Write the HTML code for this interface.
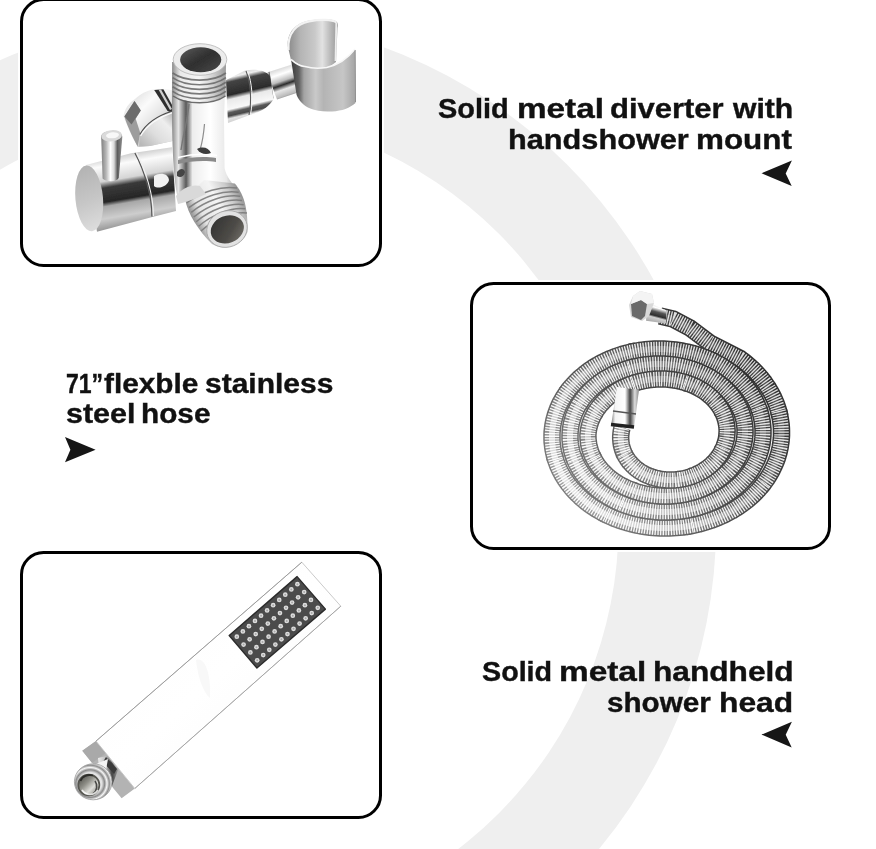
<!DOCTYPE html>
<html lang="en"><head><meta charset="utf-8"><title>Shower kit features</title>
<style>
html,body{margin:0;padding:0;background:#fff}
body{width:876px;height:849px;position:relative;overflow:hidden;font-family:"Liberation Sans",sans-serif}
.card{position:absolute;box-sizing:border-box;width:361.8px;height:268.2px;border:3px solid #000;border-radius:23.5px;background:#fff;box-shadow:0 0 0 2px #fff;overflow:hidden}
.prod{position:absolute;left:0;top:0}
#c1{left:20.3px;top:-1.9px;height:268.6px}
#c2{left:469.6px;top:281.6px}
#c3{left:20.3px;top:551.3px}
.w{position:absolute;white-space:nowrap;font-weight:bold;font-size:28px;line-height:28px;color:#111;transform-origin:0 0;letter-spacing:0;-webkit-text-stroke:0.4px #111}
.arrow{position:absolute;left:0;top:0}
</style></head><body>
<svg class="arrow" width="876" height="849" viewBox="0 0 876 849"><circle cx="207.8" cy="524.2" r="508.4" fill="#efefef"/><circle cx="208.2" cy="523.5" r="410.4" fill="#fff"/></svg>
<div class="card" id="c1"></div>
<div class="card" id="c2"></div>
<div class="card" id="c3"></div>
<svg class="prod" width="876" height="849" viewBox="0 0 876 849">
<defs>
<filter id="db" x="-5%" y="-5%" width="110%" height="110%"><feGaussianBlur stdDeviation="0.55"/></filter>
<linearGradient id="dHolderIn" gradientUnits="userSpaceOnUse" x1="288" y1="0" x2="337" y2="0"><stop offset="0" stop-color="#8a8a8a"/><stop offset=".25" stop-color="#b4b4b4"/><stop offset=".55" stop-color="#c9c9c9"/><stop offset=".7" stop-color="#e2e2e2"/><stop offset=".85" stop-color="#bdbdbd"/><stop offset="1" stop-color="#9c9c9c"/></linearGradient>
<linearGradient id="dHolderF" gradientUnits="userSpaceOnUse" x1="291" y1="0" x2="356" y2="0"><stop offset="0" stop-color="#3a3a3a"/><stop offset=".12" stop-color="#5f5f5f"/><stop offset=".2" stop-color="#a4a4a4"/><stop offset=".38" stop-color="#c9c9c9"/><stop offset=".5" stop-color="#b4b4b4"/><stop offset=".8" stop-color="#c6c6c6"/><stop offset="1" stop-color="#a2a2a2"/></linearGradient>
<linearGradient id="dArm" gradientUnits="userSpaceOnUse" x1="280" y1="68" x2="290" y2="97"><stop offset="0" stop-color="#d8d8d8"/><stop offset=".2" stop-color="#ffffff"/><stop offset=".42" stop-color="#bdbdbd"/><stop offset=".55" stop-color="#2c2c2c"/><stop offset=".7" stop-color="#e6e6e6"/><stop offset=".9" stop-color="#bcbcbc"/><stop offset="1" stop-color="#7c7c7c"/></linearGradient>
<linearGradient id="dCone" gradientUnits="userSpaceOnUse" x1="243" y1="69" x2="255" y2="121"><stop offset="0" stop-color="#cfcfcf"/><stop offset=".1" stop-color="#ededed"/><stop offset=".18" stop-color="#444"/><stop offset=".42" stop-color="#2b2b2b"/><stop offset=".5" stop-color="#e9e9e9"/><stop offset=".68" stop-color="#f8f8f8"/><stop offset=".74" stop-color="#5a5a5a"/><stop offset=".8" stop-color="#4a4a4a"/><stop offset=".85" stop-color="#e3e3e3"/><stop offset="1" stop-color="#bdbdbd"/></linearGradient>
<linearGradient id="dPipe" gradientUnits="userSpaceOnUse" x1="172" y1="0" x2="225" y2="0"><stop offset="0" stop-color="#6a6a6a"/><stop offset=".08" stop-color="#cfcfcf"/><stop offset=".18" stop-color="#8d8d8d"/><stop offset=".3" stop-color="#f3f3f3"/><stop offset=".55" stop-color="#ffffff"/><stop offset=".8" stop-color="#f1f1f1"/><stop offset=".94" stop-color="#c3c3c3"/><stop offset="1" stop-color="#8c8c8c"/></linearGradient>
<linearGradient id="dThread" gradientUnits="userSpaceOnUse" x1="172" y1="0" x2="226" y2="0"><stop offset="0" stop-color="#8a8a8a"/><stop offset=".15" stop-color="#e9e9e9"/><stop offset=".5" stop-color="#f6f6f6"/><stop offset=".75" stop-color="#d2d2d2"/><stop offset="1" stop-color="#9a9a9a"/></linearGradient>
<linearGradient id="dHole" x1="0" x2="1" y1="0" y2="1"><stop offset="0" stop-color="#5a5a5a"/><stop offset=".5" stop-color="#2f2f2f"/><stop offset="1" stop-color="#4a4a4a"/></linearGradient>
<linearGradient id="dHole2" x1="0" x2="1" y1="0" y2="1"><stop offset="0" stop-color="#2f2f2f"/><stop offset=".6" stop-color="#4d4b47"/><stop offset="1" stop-color="#77746e"/></linearGradient>
<linearGradient id="dKnob" gradientUnits="userSpaceOnUse" x1="120" y1="155" x2="132" y2="225"><stop offset="0" stop-color="#cfcfcf"/><stop offset=".12" stop-color="#fbfbfb"/><stop offset=".33" stop-color="#d5d5d5"/><stop offset=".42" stop-color="#3a3a3a"/><stop offset=".62" stop-color="#262626"/><stop offset=".68" stop-color="#a8a8a8"/><stop offset=".85" stop-color="#cdcdcd"/><stop offset="1" stop-color="#9a9a9a"/></linearGradient>
<linearGradient id="dFace" gradientUnits="userSpaceOnUse" x1="80" y1="170" x2="100" y2="230"><stop offset="0" stop-color="#b4b4b4"/><stop offset=".5" stop-color="#c6c6c6"/><stop offset="1" stop-color="#dedede"/></linearGradient>
<linearGradient id="dLever" gradientUnits="userSpaceOnUse" x1="101" y1="0" x2="122" y2="0"><stop offset="0" stop-color="#7d7d7d"/><stop offset=".25" stop-color="#b9b9b9"/><stop offset=".45" stop-color="#ffffff"/><stop offset=".62" stop-color="#d9d9d9"/><stop offset=".78" stop-color="#5c5c5c"/><stop offset="1" stop-color="#8a8a8a"/></linearGradient>
<linearGradient id="dBackL" gradientUnits="userSpaceOnUse" x1="135" y1="95" x2="165" y2="125"><stop offset="0" stop-color="#e4e4e4"/><stop offset=".35" stop-color="#fbfbfb"/><stop offset=".7" stop-color="#e6e6e6"/><stop offset="1" stop-color="#c6c6c6"/></linearGradient>
<linearGradient id="dBackF" gradientUnits="userSpaceOnUse" x1="142" y1="145" x2="172" y2="115"><stop offset="0" stop-color="#b9b9b9"/><stop offset=".4" stop-color="#dedede"/><stop offset=".75" stop-color="#eeeeee"/><stop offset="1" stop-color="#bdbdbd"/></linearGradient>
<linearGradient id="dBody" gradientUnits="userSpaceOnUse" x1="172" y1="0" x2="236" y2="0"><stop offset="0" stop-color="#8a8a8a"/><stop offset=".1" stop-color="#e6e6e6"/><stop offset=".22" stop-color="#5a5a5a"/><stop offset=".32" stop-color="#ededed"/><stop offset=".6" stop-color="#ffffff"/><stop offset=".85" stop-color="#e8e8e8"/><stop offset="1" stop-color="#a8a8a8"/></linearGradient>
<linearGradient id="dOut" gradientUnits="userSpaceOnUse" x1="190" y1="215" x2="240" y2="190"><stop offset="0" stop-color="#8b8b8b"/><stop offset=".2" stop-color="#e4e4e4"/><stop offset=".55" stop-color="#f4f4f4"/><stop offset=".8" stop-color="#cbcbcb"/><stop offset="1" stop-color="#8f8f8f"/></linearGradient>
</defs>
<g filter="url(#db)">
<!-- holder inner/back -->
<path d="M287.7,46 C287,32 296,23 309,20.500 C320,18.600 333,18.500 336.500,21.500 C338.500,23.500 338,26 337.500,28 L336,62 L326.700,69 L304.800,67.500 L291,60 Z" fill="url(#dHolderIn)"/>
<path d="M288.500,50 C287,33 297,23.500 309,21.300 C320,19.300 332,19.200 336.300,22.300" fill="none" stroke="#f2f2f2" stroke-width="2.2"/>
<path d="M336.300,22.300 L335.500,61" fill="none" stroke="#ededed" stroke-width="1.8"/>
<!-- arm small cylinder -->
<path d="M267,72.500 L292,64.500 L304,90.500 L277,99.500 Z" fill="url(#dArm)"/>
<path d="M269,71.800 L273,98.500" stroke="#6a6a6a" stroke-width="1.2" fill="none"/>
<!-- holder front -->
<path d="M291,59.300 C296,64 300,66 304.800,66.500 C312,68.500 320,68.500 326.700,67.500 C338,65 348,58 355,49 L355.500,103 C350,108 342,111 332.200,111.400 C324,112 316,111 310.300,108.600 C304,106 299,101 296.600,95 Z" fill="url(#dHolderF)"/>
<path d="M291,59.300 C296,64 300,66 304.800,66.500 C312,68.500 320,68.500 326.700,67.500 C338,65 348,58 355,49" fill="none" stroke="#f7f7f7" stroke-width="1.6"/>
<path d="M355.200,50 L355.500,102" stroke="#8f8f8f" stroke-width="1" fill="none"/>
<!-- cone -->
<path d="M226,80 L245,70.500 C255,68.500 266,70 270,76 L273.500,99 C270,106 262,111 254,113.500 L228,123 Z" fill="url(#dCone)"/>
<path d="M246,71 C250.500,82 252,100 249,115" fill="none" stroke="#5a5a5a" stroke-width="1.1"/>
<path d="M247.500,71 C252,82 253.500,100 250.500,114.500" fill="none" stroke="#f4f4f4" stroke-width="1"/>
<!-- back-left cylinder -->
<path d="M123.400,116.100 C125,108 129,103 134.700,99.200 C140,94 147,90.500 153.200,89.400 C160,88.300 167,88.800 172.500,90.400 L172.500,141 L150,146 L137.700,146.900 C133,138 126,126 123.400,116.100 Z" fill="url(#dBackL)"/>
<path d="M124.400,116.600 L134.500,100.900 L140.800,110.500 L135.700,118.700 L140.300,133.100 L137.600,146.500 C133,138 127,126 124.400,116.600 Z" fill="#9d9d9d"/>
<path d="M124.400,116.600 L134.500,100.900 L140.800,110.500 L131.500,124.500 Z" fill="#6c6c6c"/>
<path d="M154.200,90 L163.400,89.200 L172.500,105.800 L172.500,113 L167.600,111 Z" fill="#2f2f2f"/>
<path d="M158.500,89.600 L161,89.400 L172,109 L170,110 Z" fill="#cfcfcf"/>
<path d="M139.800,134.600 C146,123.300 159.300,115.100 172.500,111 L172.500,141 L150,146 L139,146.500 Z" fill="url(#dBackF)"/>
<path d="M139.800,134.600 C146,123.300 159.300,115.100 172.500,111" fill="none" stroke="#4a4a4a" stroke-width="1.1"/>
<path d="M140.600,136 C147,124.800 160,116.600 172.500,112.600" fill="none" stroke="#fafafa" stroke-width="1.2"/>
<!-- knob body -->
<path d="M86,165 L131,153.200 L172,147.300 L176,211 L150.500,217.500 L97,231.800 Z" fill="url(#dKnob)"/>
<path d="M134.900,153 C144,170 152,195 151.900,216.500" fill="none" stroke="#555" stroke-width="1.2"/>
<path d="M136.500,152.600 C145.500,170 153.500,195 153.400,216" fill="none" stroke="#f1f1f1" stroke-width="1.1"/>
<path d="M154,176 C160,172 168,173 169,180 C168,186 158,190 154,186 Z" fill="#f2f2f2"/>
<ellipse cx="89.200" cy="198.400" rx="13.800" ry="33" fill="url(#dFace)" transform="rotate(-5 89.200 198.400)"/>
<!-- lever -->
<path d="M101.200,137 C101,129 122,128.500 122.300,137 L118.800,178 C116,182.500 106,182 102.600,178.500 Z" fill="url(#dLever)"/>
<ellipse cx="111.700" cy="135.800" rx="10.300" ry="5.600" fill="#dadada" transform="rotate(-6 111.700 135.800)"/>
<ellipse cx="112.500" cy="135.300" rx="6.500" ry="3" fill="#f8f8f8" transform="rotate(-6 112.500 135.300)"/>
<!-- main vertical pipe body -->
<path d="M172.200,62 L226,62 L224,120 L224.600,168 C226,176 232,184 240,192 L200,204 L178,198 C172,176 171.500,120 172.200,62 Z" fill="url(#dBody)"/>
<path d="M178,160 C190,157 205,156 216,158 L216,162 C205,160 190,161 178,164 Z" fill="#8a8a8a"/>
<path d="M178,157.500 C190,154.500 205,153.500 217,155.500" fill="none" stroke="#fff" stroke-width="1.5"/>
<path d="M181,150 C184,130 188,118 189,104" fill="none" stroke="#777" stroke-width="1.4"/>
<path d="M200,150 C203,140 204,130 204.500,124" fill="none" stroke="#8c8c8c" stroke-width="1.2"/>
<path d="M197,149 C203,146 209,148 211,153 C206,155 200,154 197,149 Z" fill="#3c3c3c"/>
<!-- threads on top pipe -->
<path d="M172.500,62 L226,62 L225.500,96 C214,104 186,104 172.800,96 Z" fill="url(#dThread)"/>
<g fill="none" stroke="#6c6c6c" stroke-width="1.7" stroke-opacity=".9">
<path d="M172.600,73 C186,82.500 213,82.500 225.900,73"/>
<path d="M172.600,77.600 C186,87.100 213,87.100 225.900,77.600"/>
<path d="M172.600,82.200 C186,91.700 213,91.700 225.900,82.200"/>
<path d="M172.600,86.800 C186,96.300 213,96.300 225.900,86.800"/>
<path d="M172.600,91.400 C186,100.900 213,100.900 225.900,91.400"/>
<path d="M173,96 C186,105 213,105 225.500,96" stroke="#5e5e5e" stroke-width="1.5"/>
</g>
<!-- top opening -->
<ellipse cx="200" cy="59.500" rx="26.800" ry="15.800" fill="#ececec" stroke="#b5b5b5" stroke-width=".8"/>
<ellipse cx="200.700" cy="59.800" rx="20.600" ry="12.500" fill="url(#dHole)"/>
<!-- outlet (bottom right) -->
<path d="M185,199 L204,180 L234.800,183.500 C243,193 248,206 247.500,232 C243,246 224,252 212,244 C198,230 188,214 185,199 Z" fill="url(#dOut)"/>
<g fill="none" stroke="#7a7a7a" stroke-width="1.5" stroke-opacity=".9">
<path d="M186.5,203.0 C201.7,191.5 221.8,185.5 237.0,188.0"/>
<path d="M188.9,207.7 C203.8,196.0 223.7,189.8 238.7,192.2"/>
<path d="M191.3,212.3 C206.0,200.5 225.6,194.1 240.3,196.3"/>
<path d="M193.8,217.0 C208.2,205.1 227.5,198.4 242.0,200.5"/>
<path d="M196.2,221.7 C210.4,209.6 229.4,202.8 243.7,204.7"/>
<path d="M198.6,226.3 C212.6,214.1 231.3,207.1 245.3,208.8"/>
<path d="M201.0,231.0 C214.8,218.6 233.2,211.4 247.0,213.0"/>
</g>
<ellipse cx="227" cy="229" rx="20.600" ry="18" fill="#e2e2e2" stroke="#a5a5a5" stroke-width=".8" transform="rotate(-22 227 229)"/>
<ellipse cx="227.300" cy="229.300" rx="17" ry="13.600" fill="url(#dHole2)" transform="rotate(-22 227.300 229.300)"/>
<!-- small junction details -->
<path d="M176,196 C182,188 192,184 200,186 L206,194 C198,198 186,202 178,204 Z" fill="#d9d9d9"/>
<path d="M177,172 C180,168 184,168 185,172 C184,177 180,178 177,176 Z" fill="#444"/>
</g>
</svg>

<svg class="prod" width="876" height="849" viewBox="0 0 876 849">
<defs>
<filter id="hb" x="-5%" y="-5%" width="110%" height="110%"><feGaussianBlur stdDeviation="0.45"/></filter>
<linearGradient id="hfit" x1="0" x2="1" y1="0" y2="0"><stop offset="0" stop-color="#777"/><stop offset=".15" stop-color="#f4f4f4"/><stop offset=".5" stop-color="#fff"/><stop offset=".68" stop-color="#444"/><stop offset=".85" stop-color="#ddd"/><stop offset="1" stop-color="#888"/></linearGradient>
<linearGradient id="hnut" gradientUnits="userSpaceOnUse" x1="659" y1="304" x2="654" y2="323"><stop offset="0" stop-color="#d8d8d8"/><stop offset=".22" stop-color="#fff"/><stop offset=".42" stop-color="#555"/><stop offset=".62" stop-color="#2e2e2e"/><stop offset=".72" stop-color="#d0d0d0"/><stop offset="1" stop-color="#a5a5a5"/></linearGradient>
<linearGradient id="hedge" gradientUnits="userSpaceOnUse" x1="560" y1="530" x2="770" y2="340"><stop offset="0" stop-color="#8a8a8a"/><stop offset=".5" stop-color="#4a4a4a"/><stop offset="1" stop-color="#2a2a2a"/></linearGradient>
<linearGradient id="hrib" gradientUnits="userSpaceOnUse" x1="560" y1="530" x2="770" y2="340"><stop offset="0" stop-color="#b0b0b0"/><stop offset=".45" stop-color="#6c6c6c"/><stop offset="1" stop-color="#222"/></linearGradient>
<linearGradient id="hdash" gradientUnits="userSpaceOnUse" x1="560" y1="530" x2="770" y2="340"><stop offset="0" stop-color="#fff"/><stop offset=".5" stop-color="#fff" stop-opacity=".92"/><stop offset="1" stop-color="#fff" stop-opacity=".8"/></linearGradient>
<linearGradient id="hhi" gradientUnits="userSpaceOnUse" x1="560" y1="530" x2="770" y2="340"><stop offset="0" stop-color="#fff" stop-opacity=".8"/><stop offset=".5" stop-color="#fff" stop-opacity=".35"/><stop offset="1" stop-color="#fff" stop-opacity=".08"/></linearGradient>
</defs>
<g filter="url(#hb)" fill="none" stroke-linecap="butt" stroke-linejoin="round">
<path d="M660.0,316.0 L673.0,319.0 L690.0,328.0 L710.0,343.0 L739.9,358.4 L742.5,360.3 L745.1,362.3 L747.5,364.3 L749.9,366.4 L752.3,368.5 L754.5,370.7 L756.7,372.9 L758.7,375.2 L760.7,377.5 L762.6,379.9 L764.5,382.3 L766.2,384.8 L767.9,387.2 L769.4,389.8 L770.9,392.3 L772.3,394.9 L773.6,397.5 L774.8,400.2 L775.9,402.8 L776.9,405.5 L777.8,408.2 L778.6,411.0 L779.3,413.7 L779.9,416.5" stroke="url(#hedge)" stroke-width="17.5"/><path d="M660.0,316.0 L673.0,319.0 L690.0,328.0 L710.0,343.0 L739.9,358.4 L742.5,360.3 L745.1,362.3 L747.5,364.3 L749.9,366.4 L752.3,368.5 L754.5,370.7 L756.7,372.9 L758.7,375.2 L760.7,377.5 L762.6,379.9 L764.5,382.3 L766.2,384.8 L767.9,387.2 L769.4,389.8 L770.9,392.3 L772.3,394.9 L773.6,397.5 L774.8,400.2 L775.9,402.8 L776.9,405.5 L777.8,408.2 L778.6,411.0 L779.3,413.7 L779.9,416.5" stroke="url(#hrib)" stroke-width="14.5"/><path d="M660.0,316.0 L673.0,319.0 L690.0,328.0 L710.0,343.0 L739.9,358.4 L742.5,360.3 L745.1,362.3 L747.5,364.3 L749.9,366.4 L752.3,368.5 L754.5,370.7 L756.7,372.9 L758.7,375.2 L760.7,377.5 L762.6,379.9 L764.5,382.3 L766.2,384.8 L767.9,387.2 L769.4,389.8 L770.9,392.3 L772.3,394.9 L773.6,397.5 L774.8,400.2 L775.9,402.8 L776.9,405.5 L777.8,408.2 L778.6,411.0 L779.3,413.7 L779.9,416.5" stroke="url(#hdash)" stroke-width="14.5" stroke-dasharray="1.3 1.3"/><path d="M660.0,316.0 L673.0,319.0 L690.0,328.0 L710.0,343.0 L739.9,358.4 L742.5,360.3 L745.1,362.3 L747.5,364.3 L749.9,366.4 L752.3,368.5 L754.5,370.7 L756.7,372.9 L758.7,375.2 L760.7,377.5 L762.6,379.9 L764.5,382.3 L766.2,384.8 L767.9,387.2 L769.4,389.8 L770.9,392.3 L772.3,394.9 L773.6,397.5 L774.8,400.2 L775.9,402.8 L776.9,405.5 L777.8,408.2 L778.6,411.0 L779.3,413.7 L779.9,416.5" stroke="url(#hhi)" stroke-width="6"/>
<path d="M778.6,411.0 L779.3,413.7 L779.9,416.5 L780.4,419.3 L780.8,422.0 L781.2,424.8 L781.4,427.6 L781.5,430.4 L781.5,433.2 L781.5,436.0 L781.3,438.8 L781.0,441.6 L780.6,444.3 L780.2,447.1 L779.6,449.8 L779.0,452.5 L778.2,455.2 L777.4,457.9 L776.4,460.6 L775.4,463.2 L774.2,465.8 L773.0,468.4 L771.7,471.0 L770.3,473.5 L768.8,476.0 L767.3,478.4 L765.6,480.8 L763.9,483.2 L762.0,485.5 L760.1,487.8" stroke="url(#hedge)" stroke-width="17.5"/><path d="M778.6,411.0 L779.3,413.7 L779.9,416.5 L780.4,419.3 L780.8,422.0 L781.2,424.8 L781.4,427.6 L781.5,430.4 L781.5,433.2 L781.5,436.0 L781.3,438.8 L781.0,441.6 L780.6,444.3 L780.2,447.1 L779.6,449.8 L779.0,452.5 L778.2,455.2 L777.4,457.9 L776.4,460.6 L775.4,463.2 L774.2,465.8 L773.0,468.4 L771.7,471.0 L770.3,473.5 L768.8,476.0 L767.3,478.4 L765.6,480.8 L763.9,483.2 L762.0,485.5 L760.1,487.8" stroke="url(#hrib)" stroke-width="14.5"/><path d="M778.6,411.0 L779.3,413.7 L779.9,416.5 L780.4,419.3 L780.8,422.0 L781.2,424.8 L781.4,427.6 L781.5,430.4 L781.5,433.2 L781.5,436.0 L781.3,438.8 L781.0,441.6 L780.6,444.3 L780.2,447.1 L779.6,449.8 L779.0,452.5 L778.2,455.2 L777.4,457.9 L776.4,460.6 L775.4,463.2 L774.2,465.8 L773.0,468.4 L771.7,471.0 L770.3,473.5 L768.8,476.0 L767.3,478.4 L765.6,480.8 L763.9,483.2 L762.0,485.5 L760.1,487.8" stroke="url(#hdash)" stroke-width="14.5" stroke-dasharray="1.3 1.3"/><path d="M778.6,411.0 L779.3,413.7 L779.9,416.5 L780.4,419.3 L780.8,422.0 L781.2,424.8 L781.4,427.6 L781.5,430.4 L781.5,433.2 L781.5,436.0 L781.3,438.8 L781.0,441.6 L780.6,444.3 L780.2,447.1 L779.6,449.8 L779.0,452.5 L778.2,455.2 L777.4,457.9 L776.4,460.6 L775.4,463.2 L774.2,465.8 L773.0,468.4 L771.7,471.0 L770.3,473.5 L768.8,476.0 L767.3,478.4 L765.6,480.8 L763.9,483.2 L762.0,485.5 L760.1,487.8" stroke="url(#hhi)" stroke-width="6"/>
<path d="M763.9,483.2 L762.0,485.5 L760.1,487.8 L758.2,490.0 L756.1,492.2 L754.0,494.3 L751.8,496.4 L749.5,498.4 L747.2,500.4 L744.7,502.3 L742.3,504.1 L739.7,505.9 L737.1,507.6 L734.5,509.3 L731.8,510.9 L729.0,512.4 L726.2,513.9 L723.3,515.3 L720.4,516.6 L717.4,517.9 L714.4,519.1 L711.4,520.2 L708.3,521.2 L705.2,522.2 L702.1,523.1 L698.9,524.0 L695.7,524.7 L692.5,525.4 L689.3,526.0 L686.0,526.5" stroke="url(#hedge)" stroke-width="17.5"/><path d="M763.9,483.2 L762.0,485.5 L760.1,487.8 L758.2,490.0 L756.1,492.2 L754.0,494.3 L751.8,496.4 L749.5,498.4 L747.2,500.4 L744.7,502.3 L742.3,504.1 L739.7,505.9 L737.1,507.6 L734.5,509.3 L731.8,510.9 L729.0,512.4 L726.2,513.9 L723.3,515.3 L720.4,516.6 L717.4,517.9 L714.4,519.1 L711.4,520.2 L708.3,521.2 L705.2,522.2 L702.1,523.1 L698.9,524.0 L695.7,524.7 L692.5,525.4 L689.3,526.0 L686.0,526.5" stroke="url(#hrib)" stroke-width="14.5"/><path d="M763.9,483.2 L762.0,485.5 L760.1,487.8 L758.2,490.0 L756.1,492.2 L754.0,494.3 L751.8,496.4 L749.5,498.4 L747.2,500.4 L744.7,502.3 L742.3,504.1 L739.7,505.9 L737.1,507.6 L734.5,509.3 L731.8,510.9 L729.0,512.4 L726.2,513.9 L723.3,515.3 L720.4,516.6 L717.4,517.9 L714.4,519.1 L711.4,520.2 L708.3,521.2 L705.2,522.2 L702.1,523.1 L698.9,524.0 L695.7,524.7 L692.5,525.4 L689.3,526.0 L686.0,526.5" stroke="url(#hdash)" stroke-width="14.5" stroke-dasharray="1.3 1.3"/><path d="M763.9,483.2 L762.0,485.5 L760.1,487.8 L758.2,490.0 L756.1,492.2 L754.0,494.3 L751.8,496.4 L749.5,498.4 L747.2,500.4 L744.7,502.3 L742.3,504.1 L739.7,505.9 L737.1,507.6 L734.5,509.3 L731.8,510.9 L729.0,512.4 L726.2,513.9 L723.3,515.3 L720.4,516.6 L717.4,517.9 L714.4,519.1 L711.4,520.2 L708.3,521.2 L705.2,522.2 L702.1,523.1 L698.9,524.0 L695.7,524.7 L692.5,525.4 L689.3,526.0 L686.0,526.5" stroke="url(#hhi)" stroke-width="6"/>
<path d="M692.5,525.4 L689.3,526.0 L686.0,526.5 L682.8,527.0 L679.5,527.3 L676.2,527.6 L672.9,527.8 L669.6,528.0 L666.3,528.0 L663.0,528.0 L659.7,527.9 L656.4,527.8 L653.1,527.5 L649.9,527.2 L646.6,526.8 L643.4,526.3 L640.2,525.8 L637.0,525.1 L633.8,524.4 L630.7,523.7 L627.6,522.8 L624.5,521.9 L621.4,520.9 L618.4,519.9 L615.5,518.8 L612.6,517.6 L609.7,516.3 L606.9,515.0 L604.1,513.6 L601.4,512.1" stroke="url(#hedge)" stroke-width="17.5"/><path d="M692.5,525.4 L689.3,526.0 L686.0,526.5 L682.8,527.0 L679.5,527.3 L676.2,527.6 L672.9,527.8 L669.6,528.0 L666.3,528.0 L663.0,528.0 L659.7,527.9 L656.4,527.8 L653.1,527.5 L649.9,527.2 L646.6,526.8 L643.4,526.3 L640.2,525.8 L637.0,525.1 L633.8,524.4 L630.7,523.7 L627.6,522.8 L624.5,521.9 L621.4,520.9 L618.4,519.9 L615.5,518.8 L612.6,517.6 L609.7,516.3 L606.9,515.0 L604.1,513.6 L601.4,512.1" stroke="url(#hrib)" stroke-width="14.5"/><path d="M692.5,525.4 L689.3,526.0 L686.0,526.5 L682.8,527.0 L679.5,527.3 L676.2,527.6 L672.9,527.8 L669.6,528.0 L666.3,528.0 L663.0,528.0 L659.7,527.9 L656.4,527.8 L653.1,527.5 L649.9,527.2 L646.6,526.8 L643.4,526.3 L640.2,525.8 L637.0,525.1 L633.8,524.4 L630.7,523.7 L627.6,522.8 L624.5,521.9 L621.4,520.9 L618.4,519.9 L615.5,518.8 L612.6,517.6 L609.7,516.3 L606.9,515.0 L604.1,513.6 L601.4,512.1" stroke="url(#hdash)" stroke-width="14.5" stroke-dasharray="1.3 1.3"/><path d="M692.5,525.4 L689.3,526.0 L686.0,526.5 L682.8,527.0 L679.5,527.3 L676.2,527.6 L672.9,527.8 L669.6,528.0 L666.3,528.0 L663.0,528.0 L659.7,527.9 L656.4,527.8 L653.1,527.5 L649.9,527.2 L646.6,526.8 L643.4,526.3 L640.2,525.8 L637.0,525.1 L633.8,524.4 L630.7,523.7 L627.6,522.8 L624.5,521.9 L621.4,520.9 L618.4,519.9 L615.5,518.8 L612.6,517.6 L609.7,516.3 L606.9,515.0 L604.1,513.6 L601.4,512.1" stroke="url(#hhi)" stroke-width="6"/>
<path d="M606.9,515.0 L604.1,513.6 L601.4,512.1 L598.7,510.6 L596.1,509.1 L593.5,507.4 L591.0,505.7 L588.6,504.0 L586.2,502.2 L583.9,500.3 L581.7,498.4 L579.6,496.5 L577.5,494.5 L575.4,492.4 L573.5,490.3 L571.6,488.2 L569.9,486.0 L568.1,483.8 L566.5,481.5 L565.0,479.3 L563.5,476.9 L562.1,474.6 L560.8,472.2 L559.6,469.8 L558.5,467.4 L557.4,464.9 L556.5,462.4 L555.6,459.9 L554.9,457.4 L554.2,454.9" stroke="url(#hedge)" stroke-width="17.5"/><path d="M606.9,515.0 L604.1,513.6 L601.4,512.1 L598.7,510.6 L596.1,509.1 L593.5,507.4 L591.0,505.7 L588.6,504.0 L586.2,502.2 L583.9,500.3 L581.7,498.4 L579.6,496.5 L577.5,494.5 L575.4,492.4 L573.5,490.3 L571.6,488.2 L569.9,486.0 L568.1,483.8 L566.5,481.5 L565.0,479.3 L563.5,476.9 L562.1,474.6 L560.8,472.2 L559.6,469.8 L558.5,467.4 L557.4,464.9 L556.5,462.4 L555.6,459.9 L554.9,457.4 L554.2,454.9" stroke="url(#hrib)" stroke-width="14.5"/><path d="M606.9,515.0 L604.1,513.6 L601.4,512.1 L598.7,510.6 L596.1,509.1 L593.5,507.4 L591.0,505.7 L588.6,504.0 L586.2,502.2 L583.9,500.3 L581.7,498.4 L579.6,496.5 L577.5,494.5 L575.4,492.4 L573.5,490.3 L571.6,488.2 L569.9,486.0 L568.1,483.8 L566.5,481.5 L565.0,479.3 L563.5,476.9 L562.1,474.6 L560.8,472.2 L559.6,469.8 L558.5,467.4 L557.4,464.9 L556.5,462.4 L555.6,459.9 L554.9,457.4 L554.2,454.9" stroke="url(#hdash)" stroke-width="14.5" stroke-dasharray="1.3 1.3"/><path d="M606.9,515.0 L604.1,513.6 L601.4,512.1 L598.7,510.6 L596.1,509.1 L593.5,507.4 L591.0,505.7 L588.6,504.0 L586.2,502.2 L583.9,500.3 L581.7,498.4 L579.6,496.5 L577.5,494.5 L575.4,492.4 L573.5,490.3 L571.6,488.2 L569.9,486.0 L568.1,483.8 L566.5,481.5 L565.0,479.3 L563.5,476.9 L562.1,474.6 L560.8,472.2 L559.6,469.8 L558.5,467.4 L557.4,464.9 L556.5,462.4 L555.6,459.9 L554.9,457.4 L554.2,454.9" stroke="url(#hhi)" stroke-width="6"/>
<path d="M555.6,459.9 L554.9,457.4 L554.2,454.9 L553.6,452.3 L553.1,449.8 L552.7,447.2 L552.4,444.6 L552.1,442.1 L552.0,439.5 L552.0,436.9 L552.0,434.3 L552.1,431.8 L552.4,429.2 L552.7,426.7 L553.1,424.1 L553.6,421.6 L554.2,419.1 L554.9,416.6 L555.6,414.1 L556.5,411.6 L557.4,409.2 L558.4,406.8 L559.5,404.4 L560.7,402.0 L562.0,399.7 L563.4,397.4 L564.8,395.2 L566.3,393.0 L567.9,390.8 L569.5,388.6" stroke="url(#hedge)" stroke-width="17.5"/><path d="M555.6,459.9 L554.9,457.4 L554.2,454.9 L553.6,452.3 L553.1,449.8 L552.7,447.2 L552.4,444.6 L552.1,442.1 L552.0,439.5 L552.0,436.9 L552.0,434.3 L552.1,431.8 L552.4,429.2 L552.7,426.7 L553.1,424.1 L553.6,421.6 L554.2,419.1 L554.9,416.6 L555.6,414.1 L556.5,411.6 L557.4,409.2 L558.4,406.8 L559.5,404.4 L560.7,402.0 L562.0,399.7 L563.4,397.4 L564.8,395.2 L566.3,393.0 L567.9,390.8 L569.5,388.6" stroke="url(#hrib)" stroke-width="14.5"/><path d="M555.6,459.9 L554.9,457.4 L554.2,454.9 L553.6,452.3 L553.1,449.8 L552.7,447.2 L552.4,444.6 L552.1,442.1 L552.0,439.5 L552.0,436.9 L552.0,434.3 L552.1,431.8 L552.4,429.2 L552.7,426.7 L553.1,424.1 L553.6,421.6 L554.2,419.1 L554.9,416.6 L555.6,414.1 L556.5,411.6 L557.4,409.2 L558.4,406.8 L559.5,404.4 L560.7,402.0 L562.0,399.7 L563.4,397.4 L564.8,395.2 L566.3,393.0 L567.9,390.8 L569.5,388.6" stroke="url(#hdash)" stroke-width="14.5" stroke-dasharray="1.3 1.3"/><path d="M555.6,459.9 L554.9,457.4 L554.2,454.9 L553.6,452.3 L553.1,449.8 L552.7,447.2 L552.4,444.6 L552.1,442.1 L552.0,439.5 L552.0,436.9 L552.0,434.3 L552.1,431.8 L552.4,429.2 L552.7,426.7 L553.1,424.1 L553.6,421.6 L554.2,419.1 L554.9,416.6 L555.6,414.1 L556.5,411.6 L557.4,409.2 L558.4,406.8 L559.5,404.4 L560.7,402.0 L562.0,399.7 L563.4,397.4 L564.8,395.2 L566.3,393.0 L567.9,390.8 L569.5,388.6" stroke="url(#hhi)" stroke-width="6"/>
<path d="M566.3,393.0 L567.9,390.8 L569.5,388.6 L571.3,386.5 L573.1,384.5 L575.0,382.5 L576.9,380.5 L578.9,378.6 L581.0,376.7 L583.2,374.9 L585.4,373.1 L587.6,371.4 L590.0,369.7 L592.3,368.1 L594.8,366.6 L597.3,365.1 L599.8,363.7 L602.4,362.3 L605.0,361.0 L607.7,359.8 L610.4,358.6 L613.1,357.5 L615.9,356.4 L618.8,355.4 L621.6,354.5 L624.5,353.7 L627.4,352.9 L630.3,352.2 L633.3,351.6 L636.3,351.0" stroke="url(#hedge)" stroke-width="17.5"/><path d="M566.3,393.0 L567.9,390.8 L569.5,388.6 L571.3,386.5 L573.1,384.5 L575.0,382.5 L576.9,380.5 L578.9,378.6 L581.0,376.7 L583.2,374.9 L585.4,373.1 L587.6,371.4 L590.0,369.7 L592.3,368.1 L594.8,366.6 L597.3,365.1 L599.8,363.7 L602.4,362.3 L605.0,361.0 L607.7,359.8 L610.4,358.6 L613.1,357.5 L615.9,356.4 L618.8,355.4 L621.6,354.5 L624.5,353.7 L627.4,352.9 L630.3,352.2 L633.3,351.6 L636.3,351.0" stroke="url(#hrib)" stroke-width="14.5"/><path d="M566.3,393.0 L567.9,390.8 L569.5,388.6 L571.3,386.5 L573.1,384.5 L575.0,382.5 L576.9,380.5 L578.9,378.6 L581.0,376.7 L583.2,374.9 L585.4,373.1 L587.6,371.4 L590.0,369.7 L592.3,368.1 L594.8,366.6 L597.3,365.1 L599.8,363.7 L602.4,362.3 L605.0,361.0 L607.7,359.8 L610.4,358.6 L613.1,357.5 L615.9,356.4 L618.8,355.4 L621.6,354.5 L624.5,353.7 L627.4,352.9 L630.3,352.2 L633.3,351.6 L636.3,351.0" stroke="url(#hdash)" stroke-width="14.5" stroke-dasharray="1.3 1.3"/><path d="M566.3,393.0 L567.9,390.8 L569.5,388.6 L571.3,386.5 L573.1,384.5 L575.0,382.5 L576.9,380.5 L578.9,378.6 L581.0,376.7 L583.2,374.9 L585.4,373.1 L587.6,371.4 L590.0,369.7 L592.3,368.1 L594.8,366.6 L597.3,365.1 L599.8,363.7 L602.4,362.3 L605.0,361.0 L607.7,359.8 L610.4,358.6 L613.1,357.5 L615.9,356.4 L618.8,355.4 L621.6,354.5 L624.5,353.7 L627.4,352.9 L630.3,352.2 L633.3,351.6 L636.3,351.0" stroke="url(#hhi)" stroke-width="6"/>
<path d="M630.3,352.2 L633.3,351.6 L636.3,351.0 L639.2,350.5 L642.3,350.1 L645.3,349.7 L648.3,349.4 L651.3,349.2 L654.4,349.1 L657.4,349.0 L660.4,349.0 L663.5,349.0 L666.5,349.2 L669.5,349.4 L672.5,349.7 L675.5,350.0 L678.5,350.4 L681.5,350.9 L684.4,351.5 L687.3,352.1 L690.2,352.8 L693.1,353.5 L695.9,354.3 L698.7,355.2 L701.5,356.2 L704.2,357.2 L706.9,358.3 L709.5,359.4 L712.1,360.6 L714.7,361.9" stroke="url(#hedge)" stroke-width="17.5"/><path d="M630.3,352.2 L633.3,351.6 L636.3,351.0 L639.2,350.5 L642.3,350.1 L645.3,349.7 L648.3,349.4 L651.3,349.2 L654.4,349.1 L657.4,349.0 L660.4,349.0 L663.5,349.0 L666.5,349.2 L669.5,349.4 L672.5,349.7 L675.5,350.0 L678.5,350.4 L681.5,350.9 L684.4,351.5 L687.3,352.1 L690.2,352.8 L693.1,353.5 L695.9,354.3 L698.7,355.2 L701.5,356.2 L704.2,357.2 L706.9,358.3 L709.5,359.4 L712.1,360.6 L714.7,361.9" stroke="url(#hrib)" stroke-width="14.5"/><path d="M630.3,352.2 L633.3,351.6 L636.3,351.0 L639.2,350.5 L642.3,350.1 L645.3,349.7 L648.3,349.4 L651.3,349.2 L654.4,349.1 L657.4,349.0 L660.4,349.0 L663.5,349.0 L666.5,349.2 L669.5,349.4 L672.5,349.7 L675.5,350.0 L678.5,350.4 L681.5,350.9 L684.4,351.5 L687.3,352.1 L690.2,352.8 L693.1,353.5 L695.9,354.3 L698.7,355.2 L701.5,356.2 L704.2,357.2 L706.9,358.3 L709.5,359.4 L712.1,360.6 L714.7,361.9" stroke="url(#hdash)" stroke-width="14.5" stroke-dasharray="1.3 1.3"/><path d="M630.3,352.2 L633.3,351.6 L636.3,351.0 L639.2,350.5 L642.3,350.1 L645.3,349.7 L648.3,349.4 L651.3,349.2 L654.4,349.1 L657.4,349.0 L660.4,349.0 L663.5,349.0 L666.5,349.2 L669.5,349.4 L672.5,349.7 L675.5,350.0 L678.5,350.4 L681.5,350.9 L684.4,351.5 L687.3,352.1 L690.2,352.8 L693.1,353.5 L695.9,354.3 L698.7,355.2 L701.5,356.2 L704.2,357.2 L706.9,358.3 L709.5,359.4 L712.1,360.6 L714.7,361.9" stroke="url(#hhi)" stroke-width="6"/>
<path d="M709.5,359.4 L712.1,360.6 L714.7,361.9 L717.2,363.2 L719.7,364.5 L722.1,366.0 L724.4,367.4 L726.7,369.0 L729.0,370.6 L731.2,372.2 L733.3,373.9 L735.4,375.6 L737.3,377.4 L739.3,379.2 L741.1,381.1 L742.9,383.0 L744.7,384.9 L746.3,386.9 L747.9,388.9 L749.4,390.9 L750.9,393.0 L752.2,395.1 L753.5,397.3 L754.7,399.5 L755.8,401.7 L756.9,403.9 L757.8,406.1 L758.7,408.4 L759.5,410.6 L760.3,412.9" stroke="url(#hedge)" stroke-width="17.5"/><path d="M709.5,359.4 L712.1,360.6 L714.7,361.9 L717.2,363.2 L719.7,364.5 L722.1,366.0 L724.4,367.4 L726.7,369.0 L729.0,370.6 L731.2,372.2 L733.3,373.9 L735.4,375.6 L737.3,377.4 L739.3,379.2 L741.1,381.1 L742.9,383.0 L744.7,384.9 L746.3,386.9 L747.9,388.9 L749.4,390.9 L750.9,393.0 L752.2,395.1 L753.5,397.3 L754.7,399.5 L755.8,401.7 L756.9,403.9 L757.8,406.1 L758.7,408.4 L759.5,410.6 L760.3,412.9" stroke="url(#hrib)" stroke-width="14.5"/><path d="M709.5,359.4 L712.1,360.6 L714.7,361.9 L717.2,363.2 L719.7,364.5 L722.1,366.0 L724.4,367.4 L726.7,369.0 L729.0,370.6 L731.2,372.2 L733.3,373.9 L735.4,375.6 L737.3,377.4 L739.3,379.2 L741.1,381.1 L742.9,383.0 L744.7,384.9 L746.3,386.9 L747.9,388.9 L749.4,390.9 L750.9,393.0 L752.2,395.1 L753.5,397.3 L754.7,399.5 L755.8,401.7 L756.9,403.9 L757.8,406.1 L758.7,408.4 L759.5,410.6 L760.3,412.9" stroke="url(#hdash)" stroke-width="14.5" stroke-dasharray="1.3 1.3"/><path d="M709.5,359.4 L712.1,360.6 L714.7,361.9 L717.2,363.2 L719.7,364.5 L722.1,366.0 L724.4,367.4 L726.7,369.0 L729.0,370.6 L731.2,372.2 L733.3,373.9 L735.4,375.6 L737.3,377.4 L739.3,379.2 L741.1,381.1 L742.9,383.0 L744.7,384.9 L746.3,386.9 L747.9,388.9 L749.4,390.9 L750.9,393.0 L752.2,395.1 L753.5,397.3 L754.7,399.5 L755.8,401.7 L756.9,403.9 L757.8,406.1 L758.7,408.4 L759.5,410.6 L760.3,412.9" stroke="url(#hhi)" stroke-width="6"/>
<path d="M758.7,408.4 L759.5,410.6 L760.3,412.9 L760.9,415.2 L761.5,417.6 L761.9,419.9 L762.3,422.2 L762.6,424.6 L762.8,426.9 L763.0,429.3 L763.0,431.6 L763.0,434.0 L762.9,436.3 L762.7,438.6 L762.4,441.0 L762.1,443.3 L761.6,445.6 L761.1,447.9 L760.5,450.2 L759.8,452.4 L759.1,454.7 L758.2,456.9 L757.3,459.1 L756.3,461.3 L755.2,463.4 L754.1,465.5 L752.9,467.6 L751.6,469.7 L750.2,471.7 L748.8,473.7" stroke="url(#hedge)" stroke-width="17.5"/><path d="M758.7,408.4 L759.5,410.6 L760.3,412.9 L760.9,415.2 L761.5,417.6 L761.9,419.9 L762.3,422.2 L762.6,424.6 L762.8,426.9 L763.0,429.3 L763.0,431.6 L763.0,434.0 L762.9,436.3 L762.7,438.6 L762.4,441.0 L762.1,443.3 L761.6,445.6 L761.1,447.9 L760.5,450.2 L759.8,452.4 L759.1,454.7 L758.2,456.9 L757.3,459.1 L756.3,461.3 L755.2,463.4 L754.1,465.5 L752.9,467.6 L751.6,469.7 L750.2,471.7 L748.8,473.7" stroke="url(#hrib)" stroke-width="14.5"/><path d="M758.7,408.4 L759.5,410.6 L760.3,412.9 L760.9,415.2 L761.5,417.6 L761.9,419.9 L762.3,422.2 L762.6,424.6 L762.8,426.9 L763.0,429.3 L763.0,431.6 L763.0,434.0 L762.9,436.3 L762.7,438.6 L762.4,441.0 L762.1,443.3 L761.6,445.6 L761.1,447.9 L760.5,450.2 L759.8,452.4 L759.1,454.7 L758.2,456.9 L757.3,459.1 L756.3,461.3 L755.2,463.4 L754.1,465.5 L752.9,467.6 L751.6,469.7 L750.2,471.7 L748.8,473.7" stroke="url(#hdash)" stroke-width="14.5" stroke-dasharray="1.3 1.3"/><path d="M758.7,408.4 L759.5,410.6 L760.3,412.9 L760.9,415.2 L761.5,417.6 L761.9,419.9 L762.3,422.2 L762.6,424.6 L762.8,426.9 L763.0,429.3 L763.0,431.6 L763.0,434.0 L762.9,436.3 L762.7,438.6 L762.4,441.0 L762.1,443.3 L761.6,445.6 L761.1,447.9 L760.5,450.2 L759.8,452.4 L759.1,454.7 L758.2,456.9 L757.3,459.1 L756.3,461.3 L755.2,463.4 L754.1,465.5 L752.9,467.6 L751.6,469.7 L750.2,471.7 L748.8,473.7" stroke="url(#hhi)" stroke-width="6"/>
<path d="M751.6,469.7 L750.2,471.7 L748.8,473.7 L747.2,475.7 L745.7,477.6 L744.0,479.5 L742.3,481.3 L740.5,483.1 L738.7,484.9 L736.8,486.6 L734.9,488.2 L732.9,489.9 L730.8,491.4 L728.7,493.0 L726.5,494.4 L724.3,495.8 L722.0,497.2 L719.7,498.5 L717.3,499.7 L714.9,500.9 L712.5,502.1 L710.0,503.2 L707.5,504.2 L705.0,505.1 L702.4,506.0 L699.8,506.9 L697.2,507.7 L694.5,508.4 L691.8,509.0 L689.1,509.6" stroke="url(#hedge)" stroke-width="17.5"/><path d="M751.6,469.7 L750.2,471.7 L748.8,473.7 L747.2,475.7 L745.7,477.6 L744.0,479.5 L742.3,481.3 L740.5,483.1 L738.7,484.9 L736.8,486.6 L734.9,488.2 L732.9,489.9 L730.8,491.4 L728.7,493.0 L726.5,494.4 L724.3,495.8 L722.0,497.2 L719.7,498.5 L717.3,499.7 L714.9,500.9 L712.5,502.1 L710.0,503.2 L707.5,504.2 L705.0,505.1 L702.4,506.0 L699.8,506.9 L697.2,507.7 L694.5,508.4 L691.8,509.0 L689.1,509.6" stroke="url(#hrib)" stroke-width="14.5"/><path d="M751.6,469.7 L750.2,471.7 L748.8,473.7 L747.2,475.7 L745.7,477.6 L744.0,479.5 L742.3,481.3 L740.5,483.1 L738.7,484.9 L736.8,486.6 L734.9,488.2 L732.9,489.9 L730.8,491.4 L728.7,493.0 L726.5,494.4 L724.3,495.8 L722.0,497.2 L719.7,498.5 L717.3,499.7 L714.9,500.9 L712.5,502.1 L710.0,503.2 L707.5,504.2 L705.0,505.1 L702.4,506.0 L699.8,506.9 L697.2,507.7 L694.5,508.4 L691.8,509.0 L689.1,509.6" stroke="url(#hdash)" stroke-width="14.5" stroke-dasharray="1.3 1.3"/><path d="M751.6,469.7 L750.2,471.7 L748.8,473.7 L747.2,475.7 L745.7,477.6 L744.0,479.5 L742.3,481.3 L740.5,483.1 L738.7,484.9 L736.8,486.6 L734.9,488.2 L732.9,489.9 L730.8,491.4 L728.7,493.0 L726.5,494.4 L724.3,495.8 L722.0,497.2 L719.7,498.5 L717.3,499.7 L714.9,500.9 L712.5,502.1 L710.0,503.2 L707.5,504.2 L705.0,505.1 L702.4,506.0 L699.8,506.9 L697.2,507.7 L694.5,508.4 L691.8,509.0 L689.1,509.6" stroke="url(#hhi)" stroke-width="6"/>
<path d="M694.5,508.4 L691.8,509.0 L689.1,509.6 L686.4,510.1 L683.7,510.6 L680.9,511.0 L678.2,511.3 L675.4,511.6 L672.6,511.8 L669.8,511.9 L667.1,512.0 L664.3,512.0 L661.5,512.0 L658.7,511.9 L656.0,511.7 L653.2,511.4 L650.5,511.1 L647.8,510.8 L645.1,510.3 L642.4,509.8 L639.7,509.3 L637.0,508.7 L634.4,508.0 L631.8,507.2 L629.3,506.4 L626.7,505.6 L624.2,504.7 L621.8,503.7 L619.3,502.7 L616.9,501.6" stroke="url(#hedge)" stroke-width="17.5"/><path d="M694.5,508.4 L691.8,509.0 L689.1,509.6 L686.4,510.1 L683.7,510.6 L680.9,511.0 L678.2,511.3 L675.4,511.6 L672.6,511.8 L669.8,511.9 L667.1,512.0 L664.3,512.0 L661.5,512.0 L658.7,511.9 L656.0,511.7 L653.2,511.4 L650.5,511.1 L647.8,510.8 L645.1,510.3 L642.4,509.8 L639.7,509.3 L637.0,508.7 L634.4,508.0 L631.8,507.2 L629.3,506.4 L626.7,505.6 L624.2,504.7 L621.8,503.7 L619.3,502.7 L616.9,501.6" stroke="url(#hrib)" stroke-width="14.5"/><path d="M694.5,508.4 L691.8,509.0 L689.1,509.6 L686.4,510.1 L683.7,510.6 L680.9,511.0 L678.2,511.3 L675.4,511.6 L672.6,511.8 L669.8,511.9 L667.1,512.0 L664.3,512.0 L661.5,512.0 L658.7,511.9 L656.0,511.7 L653.2,511.4 L650.5,511.1 L647.8,510.8 L645.1,510.3 L642.4,509.8 L639.7,509.3 L637.0,508.7 L634.4,508.0 L631.8,507.2 L629.3,506.4 L626.7,505.6 L624.2,504.7 L621.8,503.7 L619.3,502.7 L616.9,501.6" stroke="url(#hdash)" stroke-width="14.5" stroke-dasharray="1.3 1.3"/><path d="M694.5,508.4 L691.8,509.0 L689.1,509.6 L686.4,510.1 L683.7,510.6 L680.9,511.0 L678.2,511.3 L675.4,511.6 L672.6,511.8 L669.8,511.9 L667.1,512.0 L664.3,512.0 L661.5,512.0 L658.7,511.9 L656.0,511.7 L653.2,511.4 L650.5,511.1 L647.8,510.8 L645.1,510.3 L642.4,509.8 L639.7,509.3 L637.0,508.7 L634.4,508.0 L631.8,507.2 L629.3,506.4 L626.7,505.6 L624.2,504.7 L621.8,503.7 L619.3,502.7 L616.9,501.6" stroke="url(#hhi)" stroke-width="6"/>
<path d="M621.8,503.7 L619.3,502.7 L616.9,501.6 L614.6,500.5 L612.3,499.3 L610.0,498.0 L607.8,496.8 L605.7,495.4 L603.5,494.0 L601.5,492.6 L599.5,491.1 L597.5,489.6 L595.6,488.0 L593.8,486.4 L592.0,484.8 L590.3,483.1 L588.6,481.4 L587.1,479.6 L585.5,477.8 L584.1,476.0 L582.7,474.1 L581.4,472.2 L580.1,470.3 L578.9,468.4 L577.8,466.4 L576.8,464.4 L575.8,462.4 L574.9,460.4 L574.1,458.3 L573.3,456.3" stroke="url(#hedge)" stroke-width="17.5"/><path d="M621.8,503.7 L619.3,502.7 L616.9,501.6 L614.6,500.5 L612.3,499.3 L610.0,498.0 L607.8,496.8 L605.7,495.4 L603.5,494.0 L601.5,492.6 L599.5,491.1 L597.5,489.6 L595.6,488.0 L593.8,486.4 L592.0,484.8 L590.3,483.1 L588.6,481.4 L587.1,479.6 L585.5,477.8 L584.1,476.0 L582.7,474.1 L581.4,472.2 L580.1,470.3 L578.9,468.4 L577.8,466.4 L576.8,464.4 L575.8,462.4 L574.9,460.4 L574.1,458.3 L573.3,456.3" stroke="url(#hrib)" stroke-width="14.5"/><path d="M621.8,503.7 L619.3,502.7 L616.9,501.6 L614.6,500.5 L612.3,499.3 L610.0,498.0 L607.8,496.8 L605.7,495.4 L603.5,494.0 L601.5,492.6 L599.5,491.1 L597.5,489.6 L595.6,488.0 L593.8,486.4 L592.0,484.8 L590.3,483.1 L588.6,481.4 L587.1,479.6 L585.5,477.8 L584.1,476.0 L582.7,474.1 L581.4,472.2 L580.1,470.3 L578.9,468.4 L577.8,466.4 L576.8,464.4 L575.8,462.4 L574.9,460.4 L574.1,458.3 L573.3,456.3" stroke="url(#hdash)" stroke-width="14.5" stroke-dasharray="1.3 1.3"/><path d="M621.8,503.7 L619.3,502.7 L616.9,501.6 L614.6,500.5 L612.3,499.3 L610.0,498.0 L607.8,496.8 L605.7,495.4 L603.5,494.0 L601.5,492.6 L599.5,491.1 L597.5,489.6 L595.6,488.0 L593.8,486.4 L592.0,484.8 L590.3,483.1 L588.6,481.4 L587.1,479.6 L585.5,477.8 L584.1,476.0 L582.7,474.1 L581.4,472.2 L580.1,470.3 L578.9,468.4 L577.8,466.4 L576.8,464.4 L575.8,462.4 L574.9,460.4 L574.1,458.3 L573.3,456.3" stroke="url(#hhi)" stroke-width="6"/>
<path d="M574.9,460.4 L574.1,458.3 L573.3,456.3 L572.6,454.2 L572.0,452.1 L571.5,450.0 L571.1,447.9 L570.7,445.8 L570.4,443.6 L570.2,441.5 L570.0,439.4 L570.0,437.3 L570.0,435.1 L570.1,433.0 L570.2,430.9 L570.5,428.8 L570.8,426.7 L571.1,424.6 L571.6,422.5 L572.1,420.4 L572.8,418.4 L573.4,416.3 L574.2,414.3 L575.0,412.3 L575.9,410.3 L576.9,408.4 L577.9,406.4 L579.0,404.5 L580.2,402.7 L581.4,400.8" stroke="url(#hedge)" stroke-width="17.5"/><path d="M574.9,460.4 L574.1,458.3 L573.3,456.3 L572.6,454.2 L572.0,452.1 L571.5,450.0 L571.1,447.9 L570.7,445.8 L570.4,443.6 L570.2,441.5 L570.0,439.4 L570.0,437.3 L570.0,435.1 L570.1,433.0 L570.2,430.9 L570.5,428.8 L570.8,426.7 L571.1,424.6 L571.6,422.5 L572.1,420.4 L572.8,418.4 L573.4,416.3 L574.2,414.3 L575.0,412.3 L575.9,410.3 L576.9,408.4 L577.9,406.4 L579.0,404.5 L580.2,402.7 L581.4,400.8" stroke="url(#hrib)" stroke-width="14.5"/><path d="M574.9,460.4 L574.1,458.3 L573.3,456.3 L572.6,454.2 L572.0,452.1 L571.5,450.0 L571.1,447.9 L570.7,445.8 L570.4,443.6 L570.2,441.5 L570.0,439.4 L570.0,437.3 L570.0,435.1 L570.1,433.0 L570.2,430.9 L570.5,428.8 L570.8,426.7 L571.1,424.6 L571.6,422.5 L572.1,420.4 L572.8,418.4 L573.4,416.3 L574.2,414.3 L575.0,412.3 L575.9,410.3 L576.9,408.4 L577.9,406.4 L579.0,404.5 L580.2,402.7 L581.4,400.8" stroke="url(#hdash)" stroke-width="14.5" stroke-dasharray="1.3 1.3"/><path d="M574.9,460.4 L574.1,458.3 L573.3,456.3 L572.6,454.2 L572.0,452.1 L571.5,450.0 L571.1,447.9 L570.7,445.8 L570.4,443.6 L570.2,441.5 L570.0,439.4 L570.0,437.3 L570.0,435.1 L570.1,433.0 L570.2,430.9 L570.5,428.8 L570.8,426.7 L571.1,424.6 L571.6,422.5 L572.1,420.4 L572.8,418.4 L573.4,416.3 L574.2,414.3 L575.0,412.3 L575.9,410.3 L576.9,408.4 L577.9,406.4 L579.0,404.5 L580.2,402.7 L581.4,400.8" stroke="url(#hhi)" stroke-width="6"/>
<path d="M579.0,404.5 L580.2,402.7 L581.4,400.8 L582.7,399.0 L584.1,397.2 L585.5,395.5 L587.0,393.8 L588.5,392.1 L590.1,390.5 L591.8,388.9 L593.5,387.3 L595.2,385.8 L597.1,384.3 L598.9,382.9 L600.8,381.5 L602.8,380.2 L604.8,378.9 L606.9,377.7 L609.0,376.5 L611.1,375.3 L613.3,374.2 L615.5,373.2 L617.7,372.2 L620.0,371.3 L622.3,370.4 L624.6,369.6 L627.0,368.8 L629.4,368.1 L631.8,367.4 L634.2,366.8" stroke="url(#hedge)" stroke-width="17.5"/><path d="M579.0,404.5 L580.2,402.7 L581.4,400.8 L582.7,399.0 L584.1,397.2 L585.5,395.5 L587.0,393.8 L588.5,392.1 L590.1,390.5 L591.8,388.9 L593.5,387.3 L595.2,385.8 L597.1,384.3 L598.9,382.9 L600.8,381.5 L602.8,380.2 L604.8,378.9 L606.9,377.7 L609.0,376.5 L611.1,375.3 L613.3,374.2 L615.5,373.2 L617.7,372.2 L620.0,371.3 L622.3,370.4 L624.6,369.6 L627.0,368.8 L629.4,368.1 L631.8,367.4 L634.2,366.8" stroke="url(#hrib)" stroke-width="14.5"/><path d="M579.0,404.5 L580.2,402.7 L581.4,400.8 L582.7,399.0 L584.1,397.2 L585.5,395.5 L587.0,393.8 L588.5,392.1 L590.1,390.5 L591.8,388.9 L593.5,387.3 L595.2,385.8 L597.1,384.3 L598.9,382.9 L600.8,381.5 L602.8,380.2 L604.8,378.9 L606.9,377.7 L609.0,376.5 L611.1,375.3 L613.3,374.2 L615.5,373.2 L617.7,372.2 L620.0,371.3 L622.3,370.4 L624.6,369.6 L627.0,368.8 L629.4,368.1 L631.8,367.4 L634.2,366.8" stroke="url(#hdash)" stroke-width="14.5" stroke-dasharray="1.3 1.3"/><path d="M579.0,404.5 L580.2,402.7 L581.4,400.8 L582.7,399.0 L584.1,397.2 L585.5,395.5 L587.0,393.8 L588.5,392.1 L590.1,390.5 L591.8,388.9 L593.5,387.3 L595.2,385.8 L597.1,384.3 L598.9,382.9 L600.8,381.5 L602.8,380.2 L604.8,378.9 L606.9,377.7 L609.0,376.5 L611.1,375.3 L613.3,374.2 L615.5,373.2 L617.7,372.2 L620.0,371.3 L622.3,370.4 L624.6,369.6 L627.0,368.8 L629.4,368.1 L631.8,367.4 L634.2,366.8" stroke="url(#hhi)" stroke-width="6"/>
<path d="M629.4,368.1 L631.8,367.4 L634.2,366.8 L636.7,366.3 L639.1,365.8 L641.6,365.4 L644.1,365.0 L646.6,364.7 L649.1,364.4 L651.6,364.2 L654.2,364.1 L656.7,364.0 L659.2,364.0 L661.7,364.0 L664.2,364.1 L666.7,364.2 L669.2,364.4 L671.7,364.7 L674.2,365.0 L676.7,365.4 L679.1,365.8 L681.5,366.3 L683.9,366.9 L686.3,367.5 L688.7,368.1 L691.0,368.8 L693.3,369.6 L695.6,370.4 L697.8,371.2 L700.0,372.1" stroke="url(#hedge)" stroke-width="17.5"/><path d="M629.4,368.1 L631.8,367.4 L634.2,366.8 L636.7,366.3 L639.1,365.8 L641.6,365.4 L644.1,365.0 L646.6,364.7 L649.1,364.4 L651.6,364.2 L654.2,364.1 L656.7,364.0 L659.2,364.0 L661.7,364.0 L664.2,364.1 L666.7,364.2 L669.2,364.4 L671.7,364.7 L674.2,365.0 L676.7,365.4 L679.1,365.8 L681.5,366.3 L683.9,366.9 L686.3,367.5 L688.7,368.1 L691.0,368.8 L693.3,369.6 L695.6,370.4 L697.8,371.2 L700.0,372.1" stroke="url(#hrib)" stroke-width="14.5"/><path d="M629.4,368.1 L631.8,367.4 L634.2,366.8 L636.7,366.3 L639.1,365.8 L641.6,365.4 L644.1,365.0 L646.6,364.7 L649.1,364.4 L651.6,364.2 L654.2,364.1 L656.7,364.0 L659.2,364.0 L661.7,364.0 L664.2,364.1 L666.7,364.2 L669.2,364.4 L671.7,364.7 L674.2,365.0 L676.7,365.4 L679.1,365.8 L681.5,366.3 L683.9,366.9 L686.3,367.5 L688.7,368.1 L691.0,368.8 L693.3,369.6 L695.6,370.4 L697.8,371.2 L700.0,372.1" stroke="url(#hdash)" stroke-width="14.5" stroke-dasharray="1.3 1.3"/><path d="M629.4,368.1 L631.8,367.4 L634.2,366.8 L636.7,366.3 L639.1,365.8 L641.6,365.4 L644.1,365.0 L646.6,364.7 L649.1,364.4 L651.6,364.2 L654.2,364.1 L656.7,364.0 L659.2,364.0 L661.7,364.0 L664.2,364.1 L666.7,364.2 L669.2,364.4 L671.7,364.7 L674.2,365.0 L676.7,365.4 L679.1,365.8 L681.5,366.3 L683.9,366.9 L686.3,367.5 L688.7,368.1 L691.0,368.8 L693.3,369.6 L695.6,370.4 L697.8,371.2 L700.0,372.1" stroke="url(#hhi)" stroke-width="6"/>
<path d="M695.6,370.4 L697.8,371.2 L700.0,372.1 L702.2,373.1 L704.3,374.1 L706.4,375.2 L708.5,376.3 L710.5,377.4 L712.4,378.6 L714.3,379.8 L716.2,381.1 L718.0,382.4 L719.8,383.8 L721.5,385.2 L723.2,386.6 L724.8,388.1 L726.4,389.6 L727.9,391.1 L729.3,392.7 L730.7,394.3 L732.1,395.9 L733.3,397.6 L734.5,399.3 L735.7,401.0 L736.8,402.7 L737.8,404.5 L738.7,406.3 L739.6,408.1 L740.5,409.9 L741.2,411.7" stroke="url(#hedge)" stroke-width="17.5"/><path d="M695.6,370.4 L697.8,371.2 L700.0,372.1 L702.2,373.1 L704.3,374.1 L706.4,375.2 L708.5,376.3 L710.5,377.4 L712.4,378.6 L714.3,379.8 L716.2,381.1 L718.0,382.4 L719.8,383.8 L721.5,385.2 L723.2,386.6 L724.8,388.1 L726.4,389.6 L727.9,391.1 L729.3,392.7 L730.7,394.3 L732.1,395.9 L733.3,397.6 L734.5,399.3 L735.7,401.0 L736.8,402.7 L737.8,404.5 L738.7,406.3 L739.6,408.1 L740.5,409.9 L741.2,411.7" stroke="url(#hrib)" stroke-width="14.5"/><path d="M695.6,370.4 L697.8,371.2 L700.0,372.1 L702.2,373.1 L704.3,374.1 L706.4,375.2 L708.5,376.3 L710.5,377.4 L712.4,378.6 L714.3,379.8 L716.2,381.1 L718.0,382.4 L719.8,383.8 L721.5,385.2 L723.2,386.6 L724.8,388.1 L726.4,389.6 L727.9,391.1 L729.3,392.7 L730.7,394.3 L732.1,395.9 L733.3,397.6 L734.5,399.3 L735.7,401.0 L736.8,402.7 L737.8,404.5 L738.7,406.3 L739.6,408.1 L740.5,409.9 L741.2,411.7" stroke="url(#hdash)" stroke-width="14.5" stroke-dasharray="1.3 1.3"/><path d="M695.6,370.4 L697.8,371.2 L700.0,372.1 L702.2,373.1 L704.3,374.1 L706.4,375.2 L708.5,376.3 L710.5,377.4 L712.4,378.6 L714.3,379.8 L716.2,381.1 L718.0,382.4 L719.8,383.8 L721.5,385.2 L723.2,386.6 L724.8,388.1 L726.4,389.6 L727.9,391.1 L729.3,392.7 L730.7,394.3 L732.1,395.9 L733.3,397.6 L734.5,399.3 L735.7,401.0 L736.8,402.7 L737.8,404.5 L738.7,406.3 L739.6,408.1 L740.5,409.9 L741.2,411.7" stroke="url(#hhi)" stroke-width="6"/>
<path d="M739.6,408.1 L740.5,409.9 L741.2,411.7 L741.9,413.5 L742.5,415.4 L743.1,417.3 L743.6,419.1 L744.0,421.0 L744.3,422.9 L744.6,424.8 L744.8,426.7 L745.0,428.6 L745.0,430.5 L745.0,432.4 L745.0,434.3 L744.8,436.2 L744.6,438.1 L744.4,440.0 L744.0,441.9 L743.6,443.7 L743.2,445.6 L742.6,447.4 L742.0,449.2 L741.4,451.0 L740.6,452.8 L739.8,454.6 L739.0,456.3 L738.0,458.1 L737.1,459.8 L736.0,461.4" stroke="url(#hedge)" stroke-width="17.5"/><path d="M739.6,408.1 L740.5,409.9 L741.2,411.7 L741.9,413.5 L742.5,415.4 L743.1,417.3 L743.6,419.1 L744.0,421.0 L744.3,422.9 L744.6,424.8 L744.8,426.7 L745.0,428.6 L745.0,430.5 L745.0,432.4 L745.0,434.3 L744.8,436.2 L744.6,438.1 L744.4,440.0 L744.0,441.9 L743.6,443.7 L743.2,445.6 L742.6,447.4 L742.0,449.2 L741.4,451.0 L740.6,452.8 L739.8,454.6 L739.0,456.3 L738.0,458.1 L737.1,459.8 L736.0,461.4" stroke="url(#hrib)" stroke-width="14.5"/><path d="M739.6,408.1 L740.5,409.9 L741.2,411.7 L741.9,413.5 L742.5,415.4 L743.1,417.3 L743.6,419.1 L744.0,421.0 L744.3,422.9 L744.6,424.8 L744.8,426.7 L745.0,428.6 L745.0,430.5 L745.0,432.4 L745.0,434.3 L744.8,436.2 L744.6,438.1 L744.4,440.0 L744.0,441.9 L743.6,443.7 L743.2,445.6 L742.6,447.4 L742.0,449.2 L741.4,451.0 L740.6,452.8 L739.8,454.6 L739.0,456.3 L738.0,458.1 L737.1,459.8 L736.0,461.4" stroke="url(#hdash)" stroke-width="14.5" stroke-dasharray="1.3 1.3"/><path d="M739.6,408.1 L740.5,409.9 L741.2,411.7 L741.9,413.5 L742.5,415.4 L743.1,417.3 L743.6,419.1 L744.0,421.0 L744.3,422.9 L744.6,424.8 L744.8,426.7 L745.0,428.6 L745.0,430.5 L745.0,432.4 L745.0,434.3 L744.8,436.2 L744.6,438.1 L744.4,440.0 L744.0,441.9 L743.6,443.7 L743.2,445.6 L742.6,447.4 L742.0,449.2 L741.4,451.0 L740.6,452.8 L739.8,454.6 L739.0,456.3 L738.0,458.1 L737.1,459.8 L736.0,461.4" stroke="url(#hhi)" stroke-width="6"/>
<path d="M738.0,458.1 L737.1,459.8 L736.0,461.4 L734.9,463.1 L733.8,464.7 L732.5,466.3 L731.3,467.9 L730.0,469.4 L728.6,470.9 L727.1,472.3 L725.7,473.8 L724.1,475.2 L722.5,476.5 L720.9,477.8 L719.2,479.1 L717.5,480.3 L715.8,481.5 L714.0,482.7 L712.1,483.8 L710.2,484.9 L708.3,485.9 L706.4,486.8 L704.4,487.8 L702.4,488.7 L700.3,489.5 L698.3,490.3 L696.2,491.0 L694.1,491.7 L691.9,492.3 L689.8,492.9" stroke="url(#hedge)" stroke-width="17.5"/><path d="M738.0,458.1 L737.1,459.8 L736.0,461.4 L734.9,463.1 L733.8,464.7 L732.5,466.3 L731.3,467.9 L730.0,469.4 L728.6,470.9 L727.1,472.3 L725.7,473.8 L724.1,475.2 L722.5,476.5 L720.9,477.8 L719.2,479.1 L717.5,480.3 L715.8,481.5 L714.0,482.7 L712.1,483.8 L710.2,484.9 L708.3,485.9 L706.4,486.8 L704.4,487.8 L702.4,488.7 L700.3,489.5 L698.3,490.3 L696.2,491.0 L694.1,491.7 L691.9,492.3 L689.8,492.9" stroke="url(#hrib)" stroke-width="14.5"/><path d="M738.0,458.1 L737.1,459.8 L736.0,461.4 L734.9,463.1 L733.8,464.7 L732.5,466.3 L731.3,467.9 L730.0,469.4 L728.6,470.9 L727.1,472.3 L725.7,473.8 L724.1,475.2 L722.5,476.5 L720.9,477.8 L719.2,479.1 L717.5,480.3 L715.8,481.5 L714.0,482.7 L712.1,483.8 L710.2,484.9 L708.3,485.9 L706.4,486.8 L704.4,487.8 L702.4,488.7 L700.3,489.5 L698.3,490.3 L696.2,491.0 L694.1,491.7 L691.9,492.3 L689.8,492.9" stroke="url(#hdash)" stroke-width="14.5" stroke-dasharray="1.3 1.3"/><path d="M738.0,458.1 L737.1,459.8 L736.0,461.4 L734.9,463.1 L733.8,464.7 L732.5,466.3 L731.3,467.9 L730.0,469.4 L728.6,470.9 L727.1,472.3 L725.7,473.8 L724.1,475.2 L722.5,476.5 L720.9,477.8 L719.2,479.1 L717.5,480.3 L715.8,481.5 L714.0,482.7 L712.1,483.8 L710.2,484.9 L708.3,485.9 L706.4,486.8 L704.4,487.8 L702.4,488.7 L700.3,489.5 L698.3,490.3 L696.2,491.0 L694.1,491.7 L691.9,492.3 L689.8,492.9" stroke="url(#hhi)" stroke-width="6"/>
<path d="M694.1,491.7 L691.9,492.3 L689.8,492.9 L687.6,493.5 L685.4,494.0 L683.2,494.4 L680.9,494.8 L678.7,495.1 L676.5,495.4 L674.2,495.6 L672.0,495.8 L669.7,496.0 L667.4,496.0 L665.2,496.1 L662.9,496.0 L660.7,495.9 L658.4,495.8 L656.2,495.6 L653.9,495.4 L651.7,495.1 L649.5,494.8 L647.3,494.4 L645.1,494.0 L643.0,493.5 L640.8,493.0 L638.7,492.4 L636.6,491.8 L634.6,491.1 L632.5,490.4 L630.5,489.6" stroke="url(#hedge)" stroke-width="17.5"/><path d="M694.1,491.7 L691.9,492.3 L689.8,492.9 L687.6,493.5 L685.4,494.0 L683.2,494.4 L680.9,494.8 L678.7,495.1 L676.5,495.4 L674.2,495.6 L672.0,495.8 L669.7,496.0 L667.4,496.0 L665.2,496.1 L662.9,496.0 L660.7,495.9 L658.4,495.8 L656.2,495.6 L653.9,495.4 L651.7,495.1 L649.5,494.8 L647.3,494.4 L645.1,494.0 L643.0,493.5 L640.8,493.0 L638.7,492.4 L636.6,491.8 L634.6,491.1 L632.5,490.4 L630.5,489.6" stroke="url(#hrib)" stroke-width="14.5"/><path d="M694.1,491.7 L691.9,492.3 L689.8,492.9 L687.6,493.5 L685.4,494.0 L683.2,494.4 L680.9,494.8 L678.7,495.1 L676.5,495.4 L674.2,495.6 L672.0,495.8 L669.7,496.0 L667.4,496.0 L665.2,496.1 L662.9,496.0 L660.7,495.9 L658.4,495.8 L656.2,495.6 L653.9,495.4 L651.7,495.1 L649.5,494.8 L647.3,494.4 L645.1,494.0 L643.0,493.5 L640.8,493.0 L638.7,492.4 L636.6,491.8 L634.6,491.1 L632.5,490.4 L630.5,489.6" stroke="url(#hdash)" stroke-width="14.5" stroke-dasharray="1.3 1.3"/><path d="M694.1,491.7 L691.9,492.3 L689.8,492.9 L687.6,493.5 L685.4,494.0 L683.2,494.4 L680.9,494.8 L678.7,495.1 L676.5,495.4 L674.2,495.6 L672.0,495.8 L669.7,496.0 L667.4,496.0 L665.2,496.1 L662.9,496.0 L660.7,495.9 L658.4,495.8 L656.2,495.6 L653.9,495.4 L651.7,495.1 L649.5,494.8 L647.3,494.4 L645.1,494.0 L643.0,493.5 L640.8,493.0 L638.7,492.4 L636.6,491.8 L634.6,491.1 L632.5,490.4 L630.5,489.6" stroke="url(#hhi)" stroke-width="6"/>
<path d="M634.6,491.1 L632.5,490.4 L630.5,489.6 L628.5,488.8 L626.6,488.0 L624.7,487.1 L622.8,486.1 L620.9,485.2 L619.1,484.1 L617.4,483.1 L615.6,482.0 L614.0,480.9 L612.3,479.7 L610.7,478.5 L609.2,477.3 L607.7,476.0 L606.2,474.7 L604.8,473.3 L603.5,472.0 L602.2,470.6 L600.9,469.2 L599.7,467.7 L598.6,466.3 L597.5,464.8 L596.4,463.2 L595.5,461.7 L594.6,460.2 L593.7,458.6 L592.9,457.0 L592.1,455.4" stroke="url(#hedge)" stroke-width="17.5"/><path d="M634.6,491.1 L632.5,490.4 L630.5,489.6 L628.5,488.8 L626.6,488.0 L624.7,487.1 L622.8,486.1 L620.9,485.2 L619.1,484.1 L617.4,483.1 L615.6,482.0 L614.0,480.9 L612.3,479.7 L610.7,478.5 L609.2,477.3 L607.7,476.0 L606.2,474.7 L604.8,473.3 L603.5,472.0 L602.2,470.6 L600.9,469.2 L599.7,467.7 L598.6,466.3 L597.5,464.8 L596.4,463.2 L595.5,461.7 L594.6,460.2 L593.7,458.6 L592.9,457.0 L592.1,455.4" stroke="url(#hrib)" stroke-width="14.5"/><path d="M634.6,491.1 L632.5,490.4 L630.5,489.6 L628.5,488.8 L626.6,488.0 L624.7,487.1 L622.8,486.1 L620.9,485.2 L619.1,484.1 L617.4,483.1 L615.6,482.0 L614.0,480.9 L612.3,479.7 L610.7,478.5 L609.2,477.3 L607.7,476.0 L606.2,474.7 L604.8,473.3 L603.5,472.0 L602.2,470.6 L600.9,469.2 L599.7,467.7 L598.6,466.3 L597.5,464.8 L596.4,463.2 L595.5,461.7 L594.6,460.2 L593.7,458.6 L592.9,457.0 L592.1,455.4" stroke="url(#hdash)" stroke-width="14.5" stroke-dasharray="1.3 1.3"/><path d="M634.6,491.1 L632.5,490.4 L630.5,489.6 L628.5,488.8 L626.6,488.0 L624.7,487.1 L622.8,486.1 L620.9,485.2 L619.1,484.1 L617.4,483.1 L615.6,482.0 L614.0,480.9 L612.3,479.7 L610.7,478.5 L609.2,477.3 L607.7,476.0 L606.2,474.7 L604.8,473.3 L603.5,472.0 L602.2,470.6 L600.9,469.2 L599.7,467.7 L598.6,466.3 L597.5,464.8 L596.4,463.2 L595.5,461.7 L594.6,460.2 L593.7,458.6 L592.9,457.0 L592.1,455.4" stroke="url(#hhi)" stroke-width="6"/>
<path d="M593.7,458.6 L592.9,457.0 L592.1,455.4 L591.5,453.8 L590.8,452.1 L590.3,450.5 L589.8,448.8 L589.3,447.2 L588.9,445.5 L588.6,443.8 L588.4,442.1 L588.2,440.4 L588.0,438.8 L588.0,437.1 L587.9,435.4 L588.0,433.7 L588.2,432.0 L588.4,430.4 L588.7,428.7 L589.1,427.0 L589.5,425.4 L590.0,423.7 L590.5,422.1 L591.1,420.5 L591.8,418.9 L592.5,417.3 L593.2,415.8 L594.0,414.2 L594.9,412.7 L595.8,411.2" stroke="url(#hedge)" stroke-width="17.5"/><path d="M593.7,458.6 L592.9,457.0 L592.1,455.4 L591.5,453.8 L590.8,452.1 L590.3,450.5 L589.8,448.8 L589.3,447.2 L588.9,445.5 L588.6,443.8 L588.4,442.1 L588.2,440.4 L588.0,438.8 L588.0,437.1 L587.9,435.4 L588.0,433.7 L588.2,432.0 L588.4,430.4 L588.7,428.7 L589.1,427.0 L589.5,425.4 L590.0,423.7 L590.5,422.1 L591.1,420.5 L591.8,418.9 L592.5,417.3 L593.2,415.8 L594.0,414.2 L594.9,412.7 L595.8,411.2" stroke="url(#hrib)" stroke-width="14.5"/><path d="M593.7,458.6 L592.9,457.0 L592.1,455.4 L591.5,453.8 L590.8,452.1 L590.3,450.5 L589.8,448.8 L589.3,447.2 L588.9,445.5 L588.6,443.8 L588.4,442.1 L588.2,440.4 L588.0,438.8 L588.0,437.1 L587.9,435.4 L588.0,433.7 L588.2,432.0 L588.4,430.4 L588.7,428.7 L589.1,427.0 L589.5,425.4 L590.0,423.7 L590.5,422.1 L591.1,420.5 L591.8,418.9 L592.5,417.3 L593.2,415.8 L594.0,414.2 L594.9,412.7 L595.8,411.2" stroke="url(#hdash)" stroke-width="14.5" stroke-dasharray="1.3 1.3"/><path d="M593.7,458.6 L592.9,457.0 L592.1,455.4 L591.5,453.8 L590.8,452.1 L590.3,450.5 L589.8,448.8 L589.3,447.2 L588.9,445.5 L588.6,443.8 L588.4,442.1 L588.2,440.4 L588.0,438.8 L588.0,437.1 L587.9,435.4 L588.0,433.7 L588.2,432.0 L588.4,430.4 L588.7,428.7 L589.1,427.0 L589.5,425.4 L590.0,423.7 L590.5,422.1 L591.1,420.5 L591.8,418.9 L592.5,417.3 L593.2,415.8 L594.0,414.2 L594.9,412.7 L595.8,411.2" stroke="url(#hhi)" stroke-width="6"/>
<path d="M594.0,414.2 L594.9,412.7 L595.8,411.2 L596.8,409.7 L597.9,408.3 L598.9,406.8 L600.1,405.4 L601.3,404.0 L602.5,402.7 L603.8,401.3 L605.1,400.1 L606.4,398.8 L607.8,397.6 L609.3,396.4 L610.8,395.2 L612.3,394.1 L613.9,393.0 L615.4,391.9 L617.1,390.9 L618.7,389.9 L620.4,389.0 L622.2,388.1 L623.9,387.2 L625.7,386.4 L627.5,385.6 L629.3,384.8 L631.2,384.1 L633.1,383.5 L634.9,382.9 L636.9,382.3" stroke="url(#hedge)" stroke-width="17.5"/><path d="M594.0,414.2 L594.9,412.7 L595.8,411.2 L596.8,409.7 L597.9,408.3 L598.9,406.8 L600.1,405.4 L601.3,404.0 L602.5,402.7 L603.8,401.3 L605.1,400.1 L606.4,398.8 L607.8,397.6 L609.3,396.4 L610.8,395.2 L612.3,394.1 L613.9,393.0 L615.4,391.9 L617.1,390.9 L618.7,389.9 L620.4,389.0 L622.2,388.1 L623.9,387.2 L625.7,386.4 L627.5,385.6 L629.3,384.8 L631.2,384.1 L633.1,383.5 L634.9,382.9 L636.9,382.3" stroke="url(#hrib)" stroke-width="14.5"/><path d="M594.0,414.2 L594.9,412.7 L595.8,411.2 L596.8,409.7 L597.9,408.3 L598.9,406.8 L600.1,405.4 L601.3,404.0 L602.5,402.7 L603.8,401.3 L605.1,400.1 L606.4,398.8 L607.8,397.6 L609.3,396.4 L610.8,395.2 L612.3,394.1 L613.9,393.0 L615.4,391.9 L617.1,390.9 L618.7,389.9 L620.4,389.0 L622.2,388.1 L623.9,387.2 L625.7,386.4 L627.5,385.6 L629.3,384.8 L631.2,384.1 L633.1,383.5 L634.9,382.9 L636.9,382.3" stroke="url(#hdash)" stroke-width="14.5" stroke-dasharray="1.3 1.3"/><path d="M594.0,414.2 L594.9,412.7 L595.8,411.2 L596.8,409.7 L597.9,408.3 L598.9,406.8 L600.1,405.4 L601.3,404.0 L602.5,402.7 L603.8,401.3 L605.1,400.1 L606.4,398.8 L607.8,397.6 L609.3,396.4 L610.8,395.2 L612.3,394.1 L613.9,393.0 L615.4,391.9 L617.1,390.9 L618.7,389.9 L620.4,389.0 L622.2,388.1 L623.9,387.2 L625.7,386.4 L627.5,385.6 L629.3,384.8 L631.2,384.1 L633.1,383.5 L634.9,382.9 L636.9,382.3" stroke="url(#hhi)" stroke-width="6"/>
<path d="M633.1,383.5 L634.9,382.9 L636.9,382.3 L638.8,381.8 L640.7,381.3 L642.7,380.9 L644.6,380.5 L646.6,380.1 L648.6,379.8 L650.6,379.6 L652.6,379.3 L654.5,379.2 L656.5,379.1 L658.5,379.0 L660.5,378.9 L662.5,379.0 L664.5,379.0 L666.5,379.1 L668.4,379.3 L670.4,379.5 L672.3,379.7 L674.2,380.0 L676.2,380.3 L678.0,380.7 L679.9,381.1 L681.8,381.6 L683.6,382.0 L685.4,382.6 L687.2,383.2 L689.0,383.8" stroke="url(#hedge)" stroke-width="17.5"/><path d="M633.1,383.5 L634.9,382.9 L636.9,382.3 L638.8,381.8 L640.7,381.3 L642.7,380.9 L644.6,380.5 L646.6,380.1 L648.6,379.8 L650.6,379.6 L652.6,379.3 L654.5,379.2 L656.5,379.1 L658.5,379.0 L660.5,378.9 L662.5,379.0 L664.5,379.0 L666.5,379.1 L668.4,379.3 L670.4,379.5 L672.3,379.7 L674.2,380.0 L676.2,380.3 L678.0,380.7 L679.9,381.1 L681.8,381.6 L683.6,382.0 L685.4,382.6 L687.2,383.2 L689.0,383.8" stroke="url(#hrib)" stroke-width="14.5"/><path d="M633.1,383.5 L634.9,382.9 L636.9,382.3 L638.8,381.8 L640.7,381.3 L642.7,380.9 L644.6,380.5 L646.6,380.1 L648.6,379.8 L650.6,379.6 L652.6,379.3 L654.5,379.2 L656.5,379.1 L658.5,379.0 L660.5,378.9 L662.5,379.0 L664.5,379.0 L666.5,379.1 L668.4,379.3 L670.4,379.5 L672.3,379.7 L674.2,380.0 L676.2,380.3 L678.0,380.7 L679.9,381.1 L681.8,381.6 L683.6,382.0 L685.4,382.6 L687.2,383.2 L689.0,383.8" stroke="url(#hdash)" stroke-width="14.5" stroke-dasharray="1.3 1.3"/><path d="M633.1,383.5 L634.9,382.9 L636.9,382.3 L638.8,381.8 L640.7,381.3 L642.7,380.9 L644.6,380.5 L646.6,380.1 L648.6,379.8 L650.6,379.6 L652.6,379.3 L654.5,379.2 L656.5,379.1 L658.5,379.0 L660.5,378.9 L662.5,379.0 L664.5,379.0 L666.5,379.1 L668.4,379.3 L670.4,379.5 L672.3,379.7 L674.2,380.0 L676.2,380.3 L678.0,380.7 L679.9,381.1 L681.8,381.6 L683.6,382.0 L685.4,382.6 L687.2,383.2 L689.0,383.8" stroke="url(#hhi)" stroke-width="6"/>
<path d="M685.4,382.6 L687.2,383.2 L689.0,383.8 L690.7,384.4 L692.4,385.1 L694.1,385.9 L695.8,386.6 L697.4,387.5 L699.0,388.3 L700.5,389.2 L702.1,390.1 L703.5,391.0 L705.0,392.0 L706.4,393.0 L707.7,394.1 L709.1,395.2 L710.4,396.3 L711.6,397.4 L712.8,398.5 L713.9,399.7 L715.1,400.9 L716.1,402.2 L717.1,403.4 L718.1,404.7 L719.0,406.0 L719.9,407.3 L720.7,408.6 L721.5,410.0 L722.2,411.3 L722.9,412.7" stroke="url(#hedge)" stroke-width="17.5"/><path d="M685.4,382.6 L687.2,383.2 L689.0,383.8 L690.7,384.4 L692.4,385.1 L694.1,385.9 L695.8,386.6 L697.4,387.5 L699.0,388.3 L700.5,389.2 L702.1,390.1 L703.5,391.0 L705.0,392.0 L706.4,393.0 L707.7,394.1 L709.1,395.2 L710.4,396.3 L711.6,397.4 L712.8,398.5 L713.9,399.7 L715.1,400.9 L716.1,402.2 L717.1,403.4 L718.1,404.7 L719.0,406.0 L719.9,407.3 L720.7,408.6 L721.5,410.0 L722.2,411.3 L722.9,412.7" stroke="url(#hrib)" stroke-width="14.5"/><path d="M685.4,382.6 L687.2,383.2 L689.0,383.8 L690.7,384.4 L692.4,385.1 L694.1,385.9 L695.8,386.6 L697.4,387.5 L699.0,388.3 L700.5,389.2 L702.1,390.1 L703.5,391.0 L705.0,392.0 L706.4,393.0 L707.7,394.1 L709.1,395.2 L710.4,396.3 L711.6,397.4 L712.8,398.5 L713.9,399.7 L715.1,400.9 L716.1,402.2 L717.1,403.4 L718.1,404.7 L719.0,406.0 L719.9,407.3 L720.7,408.6 L721.5,410.0 L722.2,411.3 L722.9,412.7" stroke="url(#hdash)" stroke-width="14.5" stroke-dasharray="1.3 1.3"/><path d="M685.4,382.6 L687.2,383.2 L689.0,383.8 L690.7,384.4 L692.4,385.1 L694.1,385.9 L695.8,386.6 L697.4,387.5 L699.0,388.3 L700.5,389.2 L702.1,390.1 L703.5,391.0 L705.0,392.0 L706.4,393.0 L707.7,394.1 L709.1,395.2 L710.4,396.3 L711.6,397.4 L712.8,398.5 L713.9,399.7 L715.1,400.9 L716.1,402.2 L717.1,403.4 L718.1,404.7 L719.0,406.0 L719.9,407.3 L720.7,408.6 L721.5,410.0 L722.2,411.3 L722.9,412.7" stroke="url(#hhi)" stroke-width="6"/>
<path d="M721.5,410.0 L722.2,411.3 L722.9,412.7 L723.5,414.1 L724.1,415.5 L724.6,416.9 L725.1,418.4 L725.5,419.8 L725.9,421.2 L726.2,422.7 L726.5,424.1 L726.7,425.6 L726.9,427.0 L727.0,428.5 L727.1,430.0 L727.1,431.4 L727.0,432.9 L726.9,434.3 L726.8,435.8 L726.6,437.2 L726.4,438.7 L726.1,440.1 L725.7,441.5 L725.3,442.9 L724.9,444.3 L724.4,445.7 L723.9,447.0 L723.3,448.4 L722.7,449.7 L722.0,451.0" stroke="url(#hedge)" stroke-width="17.5"/><path d="M721.5,410.0 L722.2,411.3 L722.9,412.7 L723.5,414.1 L724.1,415.5 L724.6,416.9 L725.1,418.4 L725.5,419.8 L725.9,421.2 L726.2,422.7 L726.5,424.1 L726.7,425.6 L726.9,427.0 L727.0,428.5 L727.1,430.0 L727.1,431.4 L727.0,432.9 L726.9,434.3 L726.8,435.8 L726.6,437.2 L726.4,438.7 L726.1,440.1 L725.7,441.5 L725.3,442.9 L724.9,444.3 L724.4,445.7 L723.9,447.0 L723.3,448.4 L722.7,449.7 L722.0,451.0" stroke="url(#hrib)" stroke-width="14.5"/><path d="M721.5,410.0 L722.2,411.3 L722.9,412.7 L723.5,414.1 L724.1,415.5 L724.6,416.9 L725.1,418.4 L725.5,419.8 L725.9,421.2 L726.2,422.7 L726.5,424.1 L726.7,425.6 L726.9,427.0 L727.0,428.5 L727.1,430.0 L727.1,431.4 L727.0,432.9 L726.9,434.3 L726.8,435.8 L726.6,437.2 L726.4,438.7 L726.1,440.1 L725.7,441.5 L725.3,442.9 L724.9,444.3 L724.4,445.7 L723.9,447.0 L723.3,448.4 L722.7,449.7 L722.0,451.0" stroke="url(#hdash)" stroke-width="14.5" stroke-dasharray="1.3 1.3"/><path d="M721.5,410.0 L722.2,411.3 L722.9,412.7 L723.5,414.1 L724.1,415.5 L724.6,416.9 L725.1,418.4 L725.5,419.8 L725.9,421.2 L726.2,422.7 L726.5,424.1 L726.7,425.6 L726.9,427.0 L727.0,428.5 L727.1,430.0 L727.1,431.4 L727.0,432.9 L726.9,434.3 L726.8,435.8 L726.6,437.2 L726.4,438.7 L726.1,440.1 L725.7,441.5 L725.3,442.9 L724.9,444.3 L724.4,445.7 L723.9,447.0 L723.3,448.4 L722.7,449.7 L722.0,451.0" stroke="url(#hhi)" stroke-width="6"/>
<path d="M723.3,448.4 L722.7,449.7 L722.0,451.0 L721.3,452.3 L720.6,453.6 L719.8,454.9 L719.0,456.1 L718.1,457.3 L717.2,458.5 L716.2,459.7 L715.2,460.8 L714.2,462.0 L713.1,463.0 L712.0,464.1 L710.9,465.1 L709.7,466.1 L708.5,467.1 L707.3,468.1 L706.1,469.0 L704.8,469.8 L703.5,470.7 L702.2,471.5 L700.8,472.3 L699.4,473.0 L698.0,473.7 L696.6,474.4 L695.2,475.0 L693.7,475.6 L692.2,476.2 L690.8,476.7" stroke="url(#hedge)" stroke-width="17.5"/><path d="M723.3,448.4 L722.7,449.7 L722.0,451.0 L721.3,452.3 L720.6,453.6 L719.8,454.9 L719.0,456.1 L718.1,457.3 L717.2,458.5 L716.2,459.7 L715.2,460.8 L714.2,462.0 L713.1,463.0 L712.0,464.1 L710.9,465.1 L709.7,466.1 L708.5,467.1 L707.3,468.1 L706.1,469.0 L704.8,469.8 L703.5,470.7 L702.2,471.5 L700.8,472.3 L699.4,473.0 L698.0,473.7 L696.6,474.4 L695.2,475.0 L693.7,475.6 L692.2,476.2 L690.8,476.7" stroke="url(#hrib)" stroke-width="14.5"/><path d="M723.3,448.4 L722.7,449.7 L722.0,451.0 L721.3,452.3 L720.6,453.6 L719.8,454.9 L719.0,456.1 L718.1,457.3 L717.2,458.5 L716.2,459.7 L715.2,460.8 L714.2,462.0 L713.1,463.0 L712.0,464.1 L710.9,465.1 L709.7,466.1 L708.5,467.1 L707.3,468.1 L706.1,469.0 L704.8,469.8 L703.5,470.7 L702.2,471.5 L700.8,472.3 L699.4,473.0 L698.0,473.7 L696.6,474.4 L695.2,475.0 L693.7,475.6 L692.2,476.2 L690.8,476.7" stroke="url(#hdash)" stroke-width="14.5" stroke-dasharray="1.3 1.3"/><path d="M723.3,448.4 L722.7,449.7 L722.0,451.0 L721.3,452.3 L720.6,453.6 L719.8,454.9 L719.0,456.1 L718.1,457.3 L717.2,458.5 L716.2,459.7 L715.2,460.8 L714.2,462.0 L713.1,463.0 L712.0,464.1 L710.9,465.1 L709.7,466.1 L708.5,467.1 L707.3,468.1 L706.1,469.0 L704.8,469.8 L703.5,470.7 L702.2,471.5 L700.8,472.3 L699.4,473.0 L698.0,473.7 L696.6,474.4 L695.2,475.0 L693.7,475.6 L692.2,476.2 L690.8,476.7" stroke="url(#hhi)" stroke-width="6"/>
<path d="M693.7,475.6 L692.2,476.2 L690.8,476.7 L689.3,477.2 L687.7,477.7 L686.2,478.1 L684.7,478.5 L683.1,478.8 L681.6,479.1 L680.0,479.3 L678.5,479.6 L676.9,479.7 L675.4,479.9 L673.8,480.0 L672.3,480.0 L670.7,480.1 L669.1,480.1 L667.6,480.0 L666.1,479.9 L664.5,479.8 L663.0,479.6 L661.5,479.4 L660.0,479.2 L658.5,478.9 L657.0,478.5 L655.6,478.2 L654.1,477.8 L652.7,477.4 L651.3,476.9 L649.9,476.4" stroke="url(#hedge)" stroke-width="17.5"/><path d="M693.7,475.6 L692.2,476.2 L690.8,476.7 L689.3,477.2 L687.7,477.7 L686.2,478.1 L684.7,478.5 L683.1,478.8 L681.6,479.1 L680.0,479.3 L678.5,479.6 L676.9,479.7 L675.4,479.9 L673.8,480.0 L672.3,480.0 L670.7,480.1 L669.1,480.1 L667.6,480.0 L666.1,479.9 L664.5,479.8 L663.0,479.6 L661.5,479.4 L660.0,479.2 L658.5,478.9 L657.0,478.5 L655.6,478.2 L654.1,477.8 L652.7,477.4 L651.3,476.9 L649.9,476.4" stroke="url(#hrib)" stroke-width="14.5"/><path d="M693.7,475.6 L692.2,476.2 L690.8,476.7 L689.3,477.2 L687.7,477.7 L686.2,478.1 L684.7,478.5 L683.1,478.8 L681.6,479.1 L680.0,479.3 L678.5,479.6 L676.9,479.7 L675.4,479.9 L673.8,480.0 L672.3,480.0 L670.7,480.1 L669.1,480.1 L667.6,480.0 L666.1,479.9 L664.5,479.8 L663.0,479.6 L661.5,479.4 L660.0,479.2 L658.5,478.9 L657.0,478.5 L655.6,478.2 L654.1,477.8 L652.7,477.4 L651.3,476.9 L649.9,476.4" stroke="url(#hdash)" stroke-width="14.5" stroke-dasharray="1.3 1.3"/><path d="M693.7,475.6 L692.2,476.2 L690.8,476.7 L689.3,477.2 L687.7,477.7 L686.2,478.1 L684.7,478.5 L683.1,478.8 L681.6,479.1 L680.0,479.3 L678.5,479.6 L676.9,479.7 L675.4,479.9 L673.8,480.0 L672.3,480.0 L670.7,480.1 L669.1,480.1 L667.6,480.0 L666.1,479.9 L664.5,479.8 L663.0,479.6 L661.5,479.4 L660.0,479.2 L658.5,478.9 L657.0,478.5 L655.6,478.2 L654.1,477.8 L652.7,477.4 L651.3,476.9 L649.9,476.4" stroke="url(#hhi)" stroke-width="6"/>
<path d="M652.7,477.4 L651.3,476.9 L649.9,476.4 L648.6,475.9 L647.2,475.3 L645.9,474.7 L644.6,474.1 L643.4,473.4 L642.1,472.7 L640.9,472.0 L639.7,471.2 L638.6,470.5 L637.4,469.6 L636.3,468.8 L635.3,467.9 L634.3,467.0 L633.3,466.1 L632.3,465.2 L631.4,464.2 L630.5,463.2 L629.6,462.2 L628.8,461.2 L628.0,460.1 L627.3,459.0 L626.6,457.9 L625.9,456.8 L625.3,455.7 L624.7,454.6 L624.1,453.4 L623.6,452.3" stroke="url(#hedge)" stroke-width="17.5"/><path d="M652.7,477.4 L651.3,476.9 L649.9,476.4 L648.6,475.9 L647.2,475.3 L645.9,474.7 L644.6,474.1 L643.4,473.4 L642.1,472.7 L640.9,472.0 L639.7,471.2 L638.6,470.5 L637.4,469.6 L636.3,468.8 L635.3,467.9 L634.3,467.0 L633.3,466.1 L632.3,465.2 L631.4,464.2 L630.5,463.2 L629.6,462.2 L628.8,461.2 L628.0,460.1 L627.3,459.0 L626.6,457.9 L625.9,456.8 L625.3,455.7 L624.7,454.6 L624.1,453.4 L623.6,452.3" stroke="url(#hrib)" stroke-width="14.5"/><path d="M652.7,477.4 L651.3,476.9 L649.9,476.4 L648.6,475.9 L647.2,475.3 L645.9,474.7 L644.6,474.1 L643.4,473.4 L642.1,472.7 L640.9,472.0 L639.7,471.2 L638.6,470.5 L637.4,469.6 L636.3,468.8 L635.3,467.9 L634.3,467.0 L633.3,466.1 L632.3,465.2 L631.4,464.2 L630.5,463.2 L629.6,462.2 L628.8,461.2 L628.0,460.1 L627.3,459.0 L626.6,457.9 L625.9,456.8 L625.3,455.7 L624.7,454.6 L624.1,453.4 L623.6,452.3" stroke="url(#hdash)" stroke-width="14.5" stroke-dasharray="1.3 1.3"/><path d="M652.7,477.4 L651.3,476.9 L649.9,476.4 L648.6,475.9 L647.2,475.3 L645.9,474.7 L644.6,474.1 L643.4,473.4 L642.1,472.7 L640.9,472.0 L639.7,471.2 L638.6,470.5 L637.4,469.6 L636.3,468.8 L635.3,467.9 L634.3,467.0 L633.3,466.1 L632.3,465.2 L631.4,464.2 L630.5,463.2 L629.6,462.2 L628.8,461.2 L628.0,460.1 L627.3,459.0 L626.6,457.9 L625.9,456.8 L625.3,455.7 L624.7,454.6 L624.1,453.4 L623.6,452.3" stroke="url(#hhi)" stroke-width="6"/>
<path d="M624.7,454.6 L624.1,453.4 L623.6,452.3 L623.2,451.1 L622.7,449.9 L622.4,448.7 L622.0,447.5 L621.7,446.3 L621.4,445.0 L621.2,443.8 L621.0,442.6 L620.9,441.3 L620.8,440.1 L620.7,438.9 L620.7,437.6 L620.7,436.4 L620.8,435.1 L620.9,433.9 L621.1,432.7 L621.2,431.4 L621.5,430.2 L621.7,429.0 L622.0,427.8" stroke="url(#hedge)" stroke-width="17.5"/><path d="M624.7,454.6 L624.1,453.4 L623.6,452.3 L623.2,451.1 L622.7,449.9 L622.4,448.7 L622.0,447.5 L621.7,446.3 L621.4,445.0 L621.2,443.8 L621.0,442.6 L620.9,441.3 L620.8,440.1 L620.7,438.9 L620.7,437.6 L620.7,436.4 L620.8,435.1 L620.9,433.9 L621.1,432.7 L621.2,431.4 L621.5,430.2 L621.7,429.0 L622.0,427.8" stroke="url(#hrib)" stroke-width="14.5"/><path d="M624.7,454.6 L624.1,453.4 L623.6,452.3 L623.2,451.1 L622.7,449.9 L622.4,448.7 L622.0,447.5 L621.7,446.3 L621.4,445.0 L621.2,443.8 L621.0,442.6 L620.9,441.3 L620.8,440.1 L620.7,438.9 L620.7,437.6 L620.7,436.4 L620.8,435.1 L620.9,433.9 L621.1,432.7 L621.2,431.4 L621.5,430.2 L621.7,429.0 L622.0,427.8" stroke="url(#hdash)" stroke-width="14.5" stroke-dasharray="1.3 1.3"/><path d="M624.7,454.6 L624.1,453.4 L623.6,452.3 L623.2,451.1 L622.7,449.9 L622.4,448.7 L622.0,447.5 L621.7,446.3 L621.4,445.0 L621.2,443.8 L621.0,442.6 L620.9,441.3 L620.8,440.1 L620.7,438.9 L620.7,437.6 L620.7,436.4 L620.8,435.1 L620.9,433.9 L621.1,432.7 L621.2,431.4 L621.5,430.2 L621.7,429.0 L622.0,427.8" stroke="url(#hhi)" stroke-width="6"/>
</g>
<g filter="url(#hb)">
<path d="M617,387 L639,390 L634,428 L611,426 Z" fill="url(#hfit)"/>
<path d="M613,411 L636,414" stroke="#555" stroke-width="1.5"/>
<path d="M611,424.500 L634,427" stroke="#222" stroke-width="3.5"/>
<!-- nut + sleeve -->
<path d="M647.4,302.3 L666.6,310.5 L665.9,323.6 L646,320.8 Z" fill="url(#hnut)"/>
<path d="M633,296 L640,291 L652,294 L654,303 L649,316 L642,321 L631,317 L629,305 Z" fill="#d8d8d8"/>
<path d="M631,304 L641,300 L647,304 L645,316 L641,320 L632,316 Z" fill="#6a6a6a"/>
<path d="M633,296 L640,291 L652,294 L654,303 L647,304 L641,300 L631,304 Z" fill="#f4f4f4"/>
</g>
</svg>
<svg class="prod" width="876" height="849" viewBox="0 0 876 849">
<defs>
<filter id="sb2" x="-5%" y="-5%" width="110%" height="110%"><feGaussianBlur stdDeviation="0.4"/></filter>
<linearGradient id="sbar" x1="0" x2="1" y1="0" y2="1"><stop offset="0" stop-color="#fcfcfc"/><stop offset=".5" stop-color="#ffffff"/><stop offset="1" stop-color="#f8f8f8"/></linearGradient>
<radialGradient id="sring" cx=".42" cy=".55" r=".62"><stop offset="0" stop-color="#f2f2f2"/><stop offset=".5" stop-color="#e2e2e2"/><stop offset=".62" stop-color="#8a8a8a"/><stop offset=".72" stop-color="#f6f6f6"/><stop offset=".82" stop-color="#8d8d8d"/><stop offset=".92" stop-color="#efefef"/><stop offset="1" stop-color="#aaa"/></radialGradient>
<linearGradient id="shole" x1="0" x2="1" y1="0" y2="1"><stop offset="0" stop-color="#3e3e3a"/><stop offset=".4" stop-color="#8f8f88"/><stop offset=".65" stop-color="#deded9"/><stop offset="1" stop-color="#6e6e68"/></linearGradient>
<linearGradient id="sneck" x1="0" x2="1" y1="0" y2="0"><stop offset="0" stop-color="#eee"/><stop offset=".4" stop-color="#bbb"/><stop offset=".7" stop-color="#444"/><stop offset="1" stop-color="#999"/></linearGradient>
</defs>
<g filter="url(#sb2)">
<!-- end face -->
<path d="M82.3,750.8 L96,741.1 L134.8,788.5 L121.6,798.2 Z" fill="#b3b3b3"/>
<path d="M82.3,750.8 L96,741.1 L106,753 L92,763 Z" fill="#a9a9a9"/>
<!-- bar -->
<path d="M301.8,562.2 L340.8,606.2 L134.8,788.5 L96,741.1 Z" fill="url(#sbar)" stroke="#c4c4c4" stroke-width="0.9" stroke-linejoin="round"/>
<path d="M96,741.1 L301.8,562.2" stroke="#9c9c9c" stroke-width="1" fill="none"/>
<path d="M134.8,788.5 L340.8,606.2" stroke="#a6a6a6" stroke-width="1" fill="none"/>
<path d="M196,660 C203,657 211,668 210,698 C203,692 198,678 196,660 Z" fill="#f8f8f8"/>
<!-- plate -->
<path d="M229.2,635.5 L297.1,576.6 L325.4,609.1 L256.9,668 Z" fill="#4b4b4b" stroke="#2c2c2c" stroke-width="1.4" stroke-linejoin="round"/>
<g fill="#dedede"><circle cx="236.80" cy="636.70" r="2.35"/><circle cx="243.59" cy="644.57" r="2.35"/><circle cx="250.38" cy="652.44" r="2.35"/><circle cx="257.17" cy="660.31" r="2.35"/><circle cx="242.86" cy="631.45" r="2.35"/><circle cx="249.65" cy="639.32" r="2.35"/><circle cx="256.44" cy="647.19" r="2.35"/><circle cx="263.23" cy="655.06" r="2.35"/><circle cx="248.92" cy="626.20" r="2.35"/><circle cx="255.71" cy="634.07" r="2.35"/><circle cx="262.50" cy="641.94" r="2.35"/><circle cx="269.29" cy="649.81" r="2.35"/><circle cx="254.98" cy="620.95" r="2.35"/><circle cx="261.77" cy="628.82" r="2.35"/><circle cx="268.56" cy="636.69" r="2.35"/><circle cx="275.35" cy="644.56" r="2.35"/><circle cx="261.04" cy="615.70" r="2.35"/><circle cx="267.83" cy="623.57" r="2.35"/><circle cx="274.62" cy="631.44" r="2.35"/><circle cx="281.41" cy="639.31" r="2.35"/><circle cx="267.10" cy="610.45" r="2.35"/><circle cx="273.89" cy="618.32" r="2.35"/><circle cx="280.68" cy="626.19" r="2.35"/><circle cx="287.47" cy="634.06" r="2.35"/><circle cx="273.16" cy="605.20" r="2.35"/><circle cx="279.95" cy="613.07" r="2.35"/><circle cx="286.74" cy="620.94" r="2.35"/><circle cx="293.53" cy="628.81" r="2.35"/><circle cx="279.22" cy="599.95" r="2.35"/><circle cx="286.01" cy="607.82" r="2.35"/><circle cx="292.80" cy="615.69" r="2.35"/><circle cx="299.59" cy="623.56" r="2.35"/><circle cx="285.28" cy="594.70" r="2.35"/><circle cx="292.07" cy="602.57" r="2.35"/><circle cx="298.86" cy="610.44" r="2.35"/><circle cx="305.65" cy="618.31" r="2.35"/><circle cx="291.34" cy="589.45" r="2.35"/><circle cx="298.13" cy="597.32" r="2.35"/><circle cx="304.92" cy="605.19" r="2.35"/><circle cx="311.71" cy="613.06" r="2.35"/><circle cx="297.40" cy="584.20" r="2.35"/><circle cx="304.19" cy="592.07" r="2.35"/><circle cx="310.98" cy="599.94" r="2.35"/><circle cx="317.77" cy="607.81" r="2.35"/></g>
<g fill="#a8a8a8"><circle cx="236.80" cy="636.70" r="1.0"/><circle cx="243.59" cy="644.57" r="1.0"/><circle cx="250.38" cy="652.44" r="1.0"/><circle cx="257.17" cy="660.31" r="1.0"/><circle cx="242.86" cy="631.45" r="1.0"/><circle cx="249.65" cy="639.32" r="1.0"/><circle cx="256.44" cy="647.19" r="1.0"/><circle cx="263.23" cy="655.06" r="1.0"/><circle cx="248.92" cy="626.20" r="1.0"/><circle cx="255.71" cy="634.07" r="1.0"/><circle cx="262.50" cy="641.94" r="1.0"/><circle cx="269.29" cy="649.81" r="1.0"/><circle cx="254.98" cy="620.95" r="1.0"/><circle cx="261.77" cy="628.82" r="1.0"/><circle cx="268.56" cy="636.69" r="1.0"/><circle cx="275.35" cy="644.56" r="1.0"/><circle cx="261.04" cy="615.70" r="1.0"/><circle cx="267.83" cy="623.57" r="1.0"/><circle cx="274.62" cy="631.44" r="1.0"/><circle cx="281.41" cy="639.31" r="1.0"/><circle cx="267.10" cy="610.45" r="1.0"/><circle cx="273.89" cy="618.32" r="1.0"/><circle cx="280.68" cy="626.19" r="1.0"/><circle cx="287.47" cy="634.06" r="1.0"/><circle cx="273.16" cy="605.20" r="1.0"/><circle cx="279.95" cy="613.07" r="1.0"/><circle cx="286.74" cy="620.94" r="1.0"/><circle cx="293.53" cy="628.81" r="1.0"/><circle cx="279.22" cy="599.95" r="1.0"/><circle cx="286.01" cy="607.82" r="1.0"/><circle cx="292.80" cy="615.69" r="1.0"/><circle cx="299.59" cy="623.56" r="1.0"/><circle cx="285.28" cy="594.70" r="1.0"/><circle cx="292.07" cy="602.57" r="1.0"/><circle cx="298.86" cy="610.44" r="1.0"/><circle cx="305.65" cy="618.31" r="1.0"/><circle cx="291.34" cy="589.45" r="1.0"/><circle cx="298.13" cy="597.32" r="1.0"/><circle cx="304.92" cy="605.19" r="1.0"/><circle cx="311.71" cy="613.06" r="1.0"/><circle cx="297.40" cy="584.20" r="1.0"/><circle cx="304.19" cy="592.07" r="1.0"/><circle cx="310.98" cy="599.94" r="1.0"/><circle cx="317.77" cy="607.81" r="1.0"/></g>
<!-- neck / hex -->
<path d="M98,758 L107,756 L118,770 L112,786 L100,776 Z" fill="url(#sneck)"/>
<path d="M106,757 L117,769 L114,774 L103,762 Z" fill="#3a3a3a"/>
<path d="M96,764 L108,759 L106,770 Z" fill="#f4f4f4"/>
<!-- threaded ring -->
<ellipse cx="93.2" cy="781.8" rx="18.8" ry="18" fill="url(#sring)" stroke="#9a9a9a" stroke-width="0.8"/>
<ellipse cx="88.8" cy="785" rx="10.6" ry="10.4" fill="url(#shole)" stroke="#55554f" stroke-width="1.6"/>
<path d="M80.500,781 C82,776 88,774 93,775.500" fill="none" stroke="#2e2e2b" stroke-width="1.8"/>
<path d="M95,781 C98,785 97,791 93,794" fill="none" stroke="#4a4a46" stroke-width="1.6"/>
<path d="M82,790 C86,796 94,796 98,790" fill="none" stroke="#fff" stroke-width="1.6" stroke-opacity=".8"/>
</g>
</svg>
<span class="w" style="left:438.33px;top:95.30px;transform:scaleX(1.0318)">Solid</span><span class="w" style="left:516.52px;top:95.30px;transform:scaleX(1.1885)">metal</span><span class="w" style="left:609.89px;top:95.30px;transform:scaleX(1.1064)">diverter</span><span class="w" style="left:732.67px;top:95.30px;transform:scaleX(1.0758)">with</span><span class="w" style="left:507.98px;top:126.10px;transform:scaleX(1.0963)">handshower</span><span class="w" style="left:695.74px;top:126.10px;transform:scaleX(1.1210)">mount</span><span class="w" style="left:65.58px;top:369.80px;transform:scaleX(0.8213)">71”</span><span class="w" style="left:103.53px;top:369.80px;transform:scaleX(1.0621)">flexble</span><span class="w" style="left:204.90px;top:369.80px;transform:scaleX(1.0712)">stainless</span><span class="w" style="left:65.58px;top:400.20px;transform:scaleX(1.0873)">steel</span><span class="w" style="left:141.24px;top:400.20px;transform:scaleX(1.0629)">hose</span><span class="w" style="left:481.53px;top:658.20px;transform:scaleX(1.0242)">Solid</span><span class="w" style="left:559.12px;top:658.20px;transform:scaleX(1.1914)">metal</span><span class="w" style="left:652.82px;top:658.20px;transform:scaleX(1.1298)">handheld</span><span class="w" style="left:607.01px;top:688.50px;transform:scaleX(1.0588)">shower</span><span class="w" style="left:719.22px;top:688.50px;transform:scaleX(1.1339)">head</span>
<svg class="arrow" width="876" height="849" viewBox="0 0 876 849">
<polygon points="761.5,173.3 791.9,160.5 785.7,173.5 791.7,186.1" fill="#161616"/>
<polygon points="95.6,449.7 65.0,437.1 70.4,449.7 65.0,462.3" fill="#161616"/>
<polygon points="761.5,734.6 791.9,721.8 785.7,734.8 791.7,747.4" fill="#161616"/>
</svg>
</body></html>
